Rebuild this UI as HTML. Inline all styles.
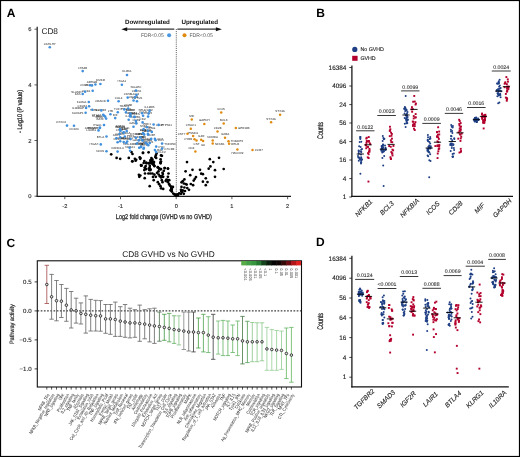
<!DOCTYPE html>
<html><head><meta charset="utf-8"><style>
html,body{margin:0;padding:0;background:#fff;overflow:hidden;}
svg{display:block;will-change:transform;}
text{font-family:"Liberation Sans",sans-serif;text-rendering:geometricPrecision;}
</style></head><body>
<svg width="520" height="457" viewBox="0 0 520 457">
<rect width="520" height="457" fill="#fff"/>
<rect x="0.5" y="0.5" width="519" height="456" fill="none" stroke="#000" stroke-width="1.2"/>
<text x="6.8" y="17" font-size="12" font-weight="bold" fill="#000">A</text>
<text x="316.3" y="16.7" font-size="12" font-weight="bold" fill="#000">B</text>
<text x="6.4" y="246.5" font-size="12" font-weight="bold" fill="#000">C</text>
<text x="315.9" y="246.4" font-size="12" font-weight="bold" fill="#000">D</text>
<line x1="37.2" y1="26.8" x2="37.2" y2="196.9" stroke="#2a2a2a" stroke-width="1.3"/>
<line x1="36.6" y1="196.3" x2="291" y2="196.3" stroke="#1a1a1a" stroke-width="1.25"/>
<line x1="34.5" y1="196.2" x2="37" y2="196.2" stroke="#333" stroke-width="0.8"/>
<text x="31.4" y="198.2" font-size="5.8" fill="#333" stroke="#333" stroke-width="0.15" text-anchor="end">0</text>
<line x1="34.5" y1="140.5" x2="37" y2="140.5" stroke="#333" stroke-width="0.8"/>
<text x="31.4" y="142.5" font-size="5.8" fill="#333" stroke="#333" stroke-width="0.15" text-anchor="end">2</text>
<line x1="34.5" y1="84.9" x2="37" y2="84.9" stroke="#333" stroke-width="0.8"/>
<text x="31.4" y="86.9" font-size="5.8" fill="#333" stroke="#333" stroke-width="0.15" text-anchor="end">4</text>
<line x1="34.5" y1="29.2" x2="37" y2="29.2" stroke="#333" stroke-width="0.8"/>
<text x="31.4" y="31.2" font-size="5.8" fill="#333" stroke="#333" stroke-width="0.15" text-anchor="end">6</text>
<line x1="64.8" y1="196.5" x2="64.8" y2="199.2" stroke="#333" stroke-width="0.8"/>
<text x="64.8" y="208.1" font-size="5.6" fill="#333" stroke="#333" stroke-width="0.15" text-anchor="middle">-2</text>
<line x1="120.5" y1="196.5" x2="120.5" y2="199.2" stroke="#333" stroke-width="0.8"/>
<text x="120.5" y="208.1" font-size="5.6" fill="#333" stroke="#333" stroke-width="0.15" text-anchor="middle">-1</text>
<line x1="176.2" y1="196.5" x2="176.2" y2="199.2" stroke="#333" stroke-width="0.8"/>
<text x="176.2" y="208.1" font-size="5.6" fill="#333" stroke="#333" stroke-width="0.15" text-anchor="middle">0</text>
<line x1="231.9" y1="196.5" x2="231.9" y2="199.2" stroke="#333" stroke-width="0.8"/>
<text x="231.9" y="208.1" font-size="5.6" fill="#333" stroke="#333" stroke-width="0.15" text-anchor="middle">1</text>
<line x1="287.6" y1="196.5" x2="287.6" y2="199.2" stroke="#333" stroke-width="0.8"/>
<text x="287.6" y="208.1" font-size="5.6" fill="#333" stroke="#333" stroke-width="0.15" text-anchor="middle">2</text>
<text x="163.8" y="219.3" font-size="7" fill="#333" stroke="#333" stroke-width="0.32" text-anchor="middle" textLength="96" lengthAdjust="spacingAndGlyphs">Log2 fold change (GVHD vs no GVHD)</text>
<text transform="translate(21.6,111.5) rotate(-90)" font-size="6.8" fill="#333" stroke="#333" stroke-width="0.32" text-anchor="middle" textLength="43" lengthAdjust="spacingAndGlyphs">- Log10 (P value)</text>
<text x="41.4" y="33.5" font-size="8.3" fill="#222">CD8</text>
<line x1="176.3" y1="29" x2="176.3" y2="196" stroke="#444" stroke-width="0.9" stroke-dasharray="1,1.1"/>
<line x1="125" y1="29.2" x2="174.3" y2="29.2" stroke="#333" stroke-width="1.3"/>
<polygon points="121.3,29.2 127.2,27.2 127.2,31.2" fill="#111"/>
<line x1="177.4" y1="29.2" x2="216.5" y2="29.2" stroke="#333" stroke-width="1.3"/>
<polygon points="221.9,29.2 215.9,27.2 215.9,31.2" fill="#111"/>
<text x="125.1" y="24.2" font-size="6.2" font-weight="bold" fill="#111" textLength="44.8" lengthAdjust="spacingAndGlyphs">Downregulated</text>
<text x="181.4" y="24.2" font-size="6.2" font-weight="bold" fill="#111" textLength="36.6" lengthAdjust="spacingAndGlyphs">Upregulated</text>
<text x="141" y="37.1" font-size="5.3" fill="#555" textLength="22.8" lengthAdjust="spacingAndGlyphs">FDR&lt;0.05</text>
<circle cx="169.1" cy="35.2" r="2" fill="#4a97e0"/>
<circle cx="184.5" cy="35.2" r="2" fill="#e08a10"/>
<text x="189.5" y="37.1" font-size="5.3" fill="#555" textLength="23.3" lengthAdjust="spacingAndGlyphs">FDR&lt;0.05</text>
<text x="49.8" y="44.6" font-size="3.0" fill="#262626" text-anchor="middle">CAHLHY</text>
<text x="82.7" y="68.5" font-size="3.0" fill="#262626" text-anchor="middle">LTB4R</text>
<text x="127.0" y="72.4" font-size="3.0" fill="#262626" text-anchor="middle">KLRK1</text>
<text x="121.9" y="82.2" font-size="3.0" fill="#262626" text-anchor="middle">ITGA1</text>
<text x="100.4" y="81.4" font-size="3.0" fill="#262626" text-anchor="middle">DMKR</text>
<text x="90.5" y="91.8" font-size="3.0" fill="#262626" text-anchor="end">KCD1</text>
<text x="82.9" y="92.7" font-size="3.0" fill="#262626" text-anchor="end">SLAMF7</text>
<text x="92.0" y="82.9" font-size="3.0" fill="#262626" text-anchor="middle">ARHGB</text>
<text x="80.5" y="95.0" font-size="3.0" fill="#262626" text-anchor="end">FAS</text>
<text x="136.0" y="88.0" font-size="3.0" fill="#262626" text-anchor="middle">SIGLEC</text>
<text x="136.5" y="92.4" font-size="3.0" fill="#262626" text-anchor="middle">CD97A</text>
<text x="137.0" y="98.6" font-size="3.0" fill="#262626" text-anchor="middle">CMTM1</text>
<text x="127.7" y="95.0" font-size="3.0" fill="#262626" text-anchor="middle">CD58</text>
<text x="105.8" y="101.8" font-size="3.0" fill="#262626" text-anchor="end">CRADD</text>
<text x="118.6" y="98.7" font-size="3.0" fill="#262626" text-anchor="middle">CUL4</text>
<text x="86.6" y="103.0" font-size="3.0" fill="#262626" text-anchor="end">KLRG1</text>
<text x="86.9" y="107.3" font-size="3.0" fill="#262626" text-anchor="end">CD244</text>
<text x="83.9" y="109.0" font-size="3.0" fill="#262626" text-anchor="end">IL18RAP</text>
<text x="83.4" y="113.8" font-size="3.0" fill="#262626" text-anchor="end">KLRAP1</text>
<text x="94.5" y="110.7" font-size="3.0" fill="#262626">SLAMF6</text>
<text x="66.0" y="123.0" font-size="3.0" fill="#262626" text-anchor="end">CXXC4</text>
<text x="74.0" y="130.4" font-size="3.0" fill="#262626" text-anchor="middle">CD160</text>
<text x="101.8" y="126.0" font-size="3.0" fill="#262626" text-anchor="end">ITGAL</text>
<text x="97.5" y="128.9" font-size="3.0" fill="#262626" text-anchor="end">ARHGAP</text>
<text x="96.3" y="131.4" font-size="3.0" fill="#262626" text-anchor="end">LILRB1</text>
<text x="104.3" y="137.5" font-size="3.0" fill="#262626" text-anchor="end">BTLA</text>
<text x="98.6" y="145.4" font-size="3.0" fill="#262626" text-anchor="end">ITGAX</text>
<text x="104.3" y="152.3" font-size="3.0" fill="#262626" text-anchor="end">NCR1</text>
<text x="117.6" y="149.0" font-size="3.0" fill="#262626" text-anchor="middle">KIR2DL4</text>
<text x="99.1" y="111.4" font-size="3.0" fill="#262626" text-anchor="end">TBX21</text>
<text x="110.4" y="111.6" font-size="3.0" fill="#262626" text-anchor="middle">LTB</text>
<text x="117.8" y="109.7" font-size="3.0" fill="#262626" text-anchor="middle">TCF7</text>
<text x="124.3" y="106.8" font-size="3.0" fill="#262626" text-anchor="middle">TRAF3</text>
<text x="101.9" y="116.7" font-size="3.0" fill="#262626" text-anchor="end">KLRD1</text>
<text x="102.9" y="117.6" font-size="3.0" fill="#262626" text-anchor="end">ZEB2</text>
<text x="103.9" y="119.6" font-size="3.0" fill="#262626" text-anchor="end">BATF</text>
<text x="115.2" y="115.5" font-size="3.0" fill="#262626" text-anchor="middle">IRF</text>
<text x="149.5" y="108.3" font-size="3.0" fill="#262626" text-anchor="middle">IL12RB</text>
<text x="148.6" y="111.0" font-size="3.0" fill="#262626" text-anchor="middle">CCR2</text>
<text x="148.1" y="114.0" font-size="3.0" fill="#262626" text-anchor="middle">CCR5</text>
<text x="155.8" y="125.5" font-size="3.0" fill="#262626">CD27</text>
<text x="160.8" y="125.9" font-size="3.0" fill="#262626">PTPN11</text>
<text x="143.6" y="126.5" font-size="3.0" fill="#262626" text-anchor="middle">STAT</text>
<text x="130.1" y="111.2" font-size="3.0" fill="#262626" text-anchor="middle">STAT4</text>
<text x="128.7" y="117.2" font-size="3.0" fill="#262626" text-anchor="middle">IL7R</text>
<text x="142.6" y="119.8" font-size="3.0" fill="#262626" text-anchor="middle">CD2</text>
<text x="134.4" y="114.5" font-size="3.0" fill="#262626" text-anchor="middle">EOMES</text>
<text x="120.0" y="126.5" font-size="3.0" fill="#262626" text-anchor="middle">ZAP70</text>
<text x="126.7" y="128.5" font-size="3.0" fill="#262626" text-anchor="middle">LCK</text>
<text x="143.1" y="130.7" font-size="3.0" fill="#262626" text-anchor="middle">CD5</text>
<text x="140.4" y="134.9" font-size="3.0" fill="#262626" text-anchor="middle">CD6</text>
<text x="164.3" y="144.6" font-size="3.0" fill="#262626">TNFRSF</text>
<text x="164.3" y="149.6" font-size="3.0" fill="#262626">CXCR4</text>
<text x="117.6" y="139.7" font-size="3.0" fill="#262626" text-anchor="middle">IL21R</text>
<text x="120.2" y="134.6" font-size="3.0" fill="#262626" text-anchor="middle">ICAM1</text>
<text x="116.3" y="135.6" font-size="3.0" fill="#262626" text-anchor="middle">JAK1</text>
<text x="129.6" y="145.2" font-size="3.0" fill="#262626" text-anchor="middle">HLA-DMB</text>
<text x="139.2" y="145.2" font-size="3.0" fill="#262626" text-anchor="middle">SOCS</text>
<text x="157.1" y="151.1" font-size="3.0" fill="#262626">RAF</text>
<text x="130.6" y="136.5" font-size="3.0" fill="#262626" text-anchor="middle">PRF1</text>
<text x="136.8" y="140.9" font-size="3.0" fill="#262626" text-anchor="middle">GZMB</text>
<text x="151.2" y="136.3" font-size="3.0" fill="#262626" text-anchor="middle">CD3E</text>
<text x="147.9" y="131.3" font-size="3.0" fill="#262626" text-anchor="middle">CD8</text>
<text x="145.7" y="140.1" font-size="3.0" fill="#262626" text-anchor="middle">NFATC</text>
<text x="158.4" y="147.6" font-size="3.0" fill="#262626">FYN</text>
<text x="87.9" y="86.2" font-size="3.0" fill="#262626" text-anchor="end">CD96</text>
<text x="93.2" y="85.5" font-size="3.0" fill="#262626" text-anchor="end">TIGIT</text>
<text x="135.0" y="94.7" font-size="3.0" fill="#262626" text-anchor="middle">LAG3</text>
<text x="133.6" y="97.9" font-size="3.0" fill="#262626" text-anchor="middle">CD226</text>
<text x="101.0" y="115.7" font-size="3.0" fill="#262626" text-anchor="end">CTLA4</text>
<text x="126.0" y="109.7" font-size="3.0" fill="#262626" text-anchor="middle">PDCD1</text>
<text x="128.2" y="105.9" font-size="3.0" fill="#262626" text-anchor="middle">CD38</text>
<text x="130.1" y="113.6" font-size="3.0" fill="#262626" text-anchor="middle">HAVCR</text>
<text x="135.9" y="118.4" font-size="3.0" fill="#262626" text-anchor="middle">KLRB1</text>
<text x="136.3" y="120.8" font-size="3.0" fill="#262626" text-anchor="middle">CD69</text>
<text x="142.1" y="110.7" font-size="3.0" fill="#262626" text-anchor="middle">SELL</text>
<text x="143.1" y="113.1" font-size="3.0" fill="#262626" text-anchor="middle">CCL5</text>
<text x="133.5" y="124.1" font-size="3.0" fill="#262626" text-anchor="middle">GZMK</text>
<text x="120.5" y="128.2" font-size="3.0" fill="#262626" text-anchor="middle">GZMA</text>
<text x="123.8" y="129.9" font-size="3.0" fill="#262626" text-anchor="middle">NKG7</text>
<text x="119.5" y="131.4" font-size="3.0" fill="#262626" text-anchor="middle">CST7</text>
<text x="147.0" y="124.7" font-size="3.0" fill="#262626" text-anchor="middle">PRF1</text>
<text x="148.1" y="128.2" font-size="3.0" fill="#262626" text-anchor="middle">FASL</text>
<text x="151.8" y="129.3" font-size="3.0" fill="#262626" text-anchor="middle">IFNG</text>
<text x="144.2" y="132.0" font-size="3.0" fill="#262626" text-anchor="middle">TNF</text>
<text x="148.1" y="132.0" font-size="3.0" fill="#262626" text-anchor="middle">IL2RB</text>
<text x="157.1" y="139.9" font-size="3.0" fill="#262626">CD7</text>
<text x="130.5" y="111.1" font-size="3.0" fill="#262626" text-anchor="middle">CD247</text>
<text x="130.5" y="113.7" font-size="3.0" fill="#262626" text-anchor="middle">ITK</text>
<text x="134.5" y="114.2" font-size="3.0" fill="#262626" text-anchor="middle">LAT</text>
<text x="120.2" y="127.9" font-size="3.0" fill="#262626" text-anchor="middle">PLCG1</text>
<text x="123.7" y="129.8" font-size="3.0" fill="#262626" text-anchor="middle">VAV1</text>
<text x="124.8" y="133.9" font-size="3.0" fill="#262626" text-anchor="middle">SH2D1A</text>
<text x="120.2" y="138.7" font-size="3.0" fill="#262626" text-anchor="middle">CD84</text>
<text x="123.7" y="139.4" font-size="3.0" fill="#262626" text-anchor="middle">LY9</text>
<text x="126.3" y="140.4" font-size="3.0" fill="#262626" text-anchor="middle">CD48</text>
<text x="127.2" y="138.9" font-size="3.0" fill="#262626" text-anchor="middle">SLAMF1</text>
<text x="135.9" y="135.1" font-size="3.0" fill="#262626" text-anchor="middle">CX3CR1</text>
<text x="140.2" y="134.6" font-size="3.0" fill="#262626" text-anchor="middle">S1PR5</text>
<text x="138.8" y="137.8" font-size="3.0" fill="#262626" text-anchor="middle">ZNF683</text>
<text x="142.1" y="137.5" font-size="3.0" fill="#262626" text-anchor="middle">TOX</text>
<text x="130.1" y="148.1" font-size="3.0" fill="#262626" text-anchor="middle">NR4A1</text>
<text x="141.2" y="144.2" font-size="3.0" fill="#262626" text-anchor="middle">EGR1</text>
<text x="143.1" y="130.8" font-size="3.0" fill="#262626" text-anchor="middle">FOS</text>
<text x="157.8" y="141.3" font-size="3.0" fill="#262626">JUN</text>
<text x="142.6" y="137.9" font-size="3.0" fill="#262626" text-anchor="middle">IRF4</text>
<text x="147.0" y="141.4" font-size="3.0" fill="#262626" text-anchor="middle">BCL6</text>
<text x="148.3" y="142.7" font-size="3.0" fill="#262626" text-anchor="middle">PRDM1</text>
<text x="149.8" y="140.5" font-size="3.0" fill="#262626" text-anchor="middle">ID2</text>
<text x="140.9" y="144.5" font-size="3.0" fill="#262626" text-anchor="middle">ID3</text>
<text x="143.9" y="145.3" font-size="3.0" fill="#262626" text-anchor="middle">MYB</text>
<text x="143.5" y="146.2" font-size="3.0" fill="#262626" text-anchor="middle">LEF1</text>
<text x="158.4" y="152.9" font-size="3.0" fill="#262626">KLF2</text>
<text x="97.8" y="128.7" font-size="3.0" fill="#262626" text-anchor="end">RUNX3</text>
<text x="221.2" y="109.9" font-size="3.0" fill="#262626" text-anchor="middle">ICOS</text>
<text x="191.8" y="116.8" font-size="3.0" fill="#262626" text-anchor="middle">MIF</text>
<text x="204.3" y="121.3" font-size="3.0" fill="#262626" text-anchor="middle">GAPDH</text>
<text x="223.7" y="120.8" font-size="3.0" fill="#262626" text-anchor="middle">BCL3</text>
<text x="190.8" y="126.2" font-size="3.0" fill="#262626" text-anchor="middle">CHAC1</text>
<text x="238.0" y="129.0" font-size="3.0" fill="#262626">GPR183</text>
<text x="217.5" y="128.9" font-size="3.0" fill="#262626" text-anchor="middle">CD28</text>
<text x="185.3" y="134.7" font-size="3.0" fill="#262626" text-anchor="end">CST7</text>
<text x="193.1" y="133.5" font-size="3.0" fill="#262626" text-anchor="middle">PSMD1</text>
<text x="192.3" y="140.2" font-size="3.0" fill="#262626" text-anchor="end">CYBB</text>
<text x="196.5" y="145.0" font-size="3.0" fill="#262626" text-anchor="middle">CST</text>
<text x="201.2" y="137.2" font-size="3.0" fill="#262626" text-anchor="middle">IL4R</text>
<text x="203.1" y="145.6" font-size="3.0" fill="#262626" text-anchor="middle">ILK</text>
<text x="212.7" y="138.0" font-size="3.0" fill="#262626" text-anchor="middle">NFKBIA</text>
<text x="214.9" y="144.6" font-size="3.0" fill="#262626">NFKB1</text>
<text x="225.0" y="135.2" font-size="3.0" fill="#262626" text-anchor="middle">IL2RA</text>
<text x="230.7" y="142.3" font-size="3.0" fill="#262626">TNFAIP3</text>
<text x="231.3" y="144.7" font-size="3.0" fill="#262626">RELB</text>
<text x="194.4" y="148.8" font-size="3.0" fill="#262626" text-anchor="end">CD4</text>
<text x="280.1" y="112.2" font-size="3.0" fill="#262626" text-anchor="middle">STX4A</text>
<text x="271.1" y="119.6" font-size="3.0" fill="#262626" text-anchor="middle">STX4A</text>
<text x="237.4" y="154.0" font-size="3.0" fill="#262626" text-anchor="middle">HAVCR2</text>
<text x="254.7" y="151.1" font-size="3.0" fill="#262626">CCR7</text>
<circle cx="111.2" cy="154.3" r="1.35" fill="#000"/>
<circle cx="116.6" cy="157.9" r="1.35" fill="#000"/>
<circle cx="120.2" cy="158.8" r="1.35" fill="#000"/>
<circle cx="128.8" cy="157.9" r="1.35" fill="#000"/>
<circle cx="131.5" cy="152.1" r="1.35" fill="#000"/>
<circle cx="132.5" cy="154" r="1.35" fill="#000"/>
<circle cx="134.9" cy="158.8" r="1.35" fill="#000"/>
<circle cx="136.2" cy="159.8" r="1.35" fill="#000"/>
<circle cx="132.5" cy="161.3" r="1.35" fill="#000"/>
<circle cx="139.7" cy="157.4" r="1.35" fill="#000"/>
<circle cx="140.2" cy="158.8" r="1.35" fill="#000"/>
<circle cx="142.9" cy="152.9" r="1.35" fill="#000"/>
<circle cx="141.4" cy="165.6" r="1.35" fill="#000"/>
<circle cx="143.1" cy="152.8" r="1.35" fill="#000"/>
<circle cx="148.6" cy="152.3" r="1.35" fill="#000"/>
<circle cx="156.6" cy="153.6" r="1.35" fill="#000"/>
<circle cx="155.8" cy="155.4" r="1.35" fill="#000"/>
<circle cx="155.3" cy="157.1" r="1.35" fill="#000"/>
<circle cx="156.2" cy="158" r="1.35" fill="#000"/>
<circle cx="161" cy="155.4" r="1.35" fill="#000"/>
<circle cx="161.9" cy="155.8" r="1.35" fill="#000"/>
<circle cx="140.4" cy="158" r="1.35" fill="#000"/>
<circle cx="151.4" cy="158" r="1.35" fill="#000"/>
<circle cx="152.3" cy="159.3" r="1.35" fill="#000"/>
<circle cx="150.5" cy="160.2" r="1.35" fill="#000"/>
<circle cx="160.6" cy="159.3" r="1.35" fill="#000"/>
<circle cx="154" cy="162" r="1.35" fill="#000"/>
<circle cx="161" cy="161.5" r="1.35" fill="#000"/>
<circle cx="160.6" cy="163.3" r="1.35" fill="#000"/>
<circle cx="146.6" cy="163.3" r="1.35" fill="#000"/>
<circle cx="148.8" cy="163.1" r="1.35" fill="#000"/>
<circle cx="151.4" cy="163.3" r="1.35" fill="#000"/>
<circle cx="153.1" cy="164.6" r="1.35" fill="#000"/>
<circle cx="154.4" cy="165.9" r="1.35" fill="#000"/>
<circle cx="141.3" cy="165.4" r="1.35" fill="#000"/>
<circle cx="144.8" cy="167.6" r="1.35" fill="#000"/>
<circle cx="148.8" cy="168.5" r="1.35" fill="#000"/>
<circle cx="150.5" cy="169.4" r="1.35" fill="#000"/>
<circle cx="157.9" cy="167.2" r="1.35" fill="#000"/>
<circle cx="159.3" cy="168.5" r="1.35" fill="#000"/>
<circle cx="161" cy="169" r="1.35" fill="#000"/>
<circle cx="164.9" cy="168.1" r="1.35" fill="#000"/>
<circle cx="168" cy="168.5" r="1.35" fill="#000"/>
<circle cx="132.2" cy="161.3" r="1.35" fill="#000"/>
<circle cx="135.6" cy="160.7" r="1.35" fill="#000"/>
<circle cx="141.2" cy="165.7" r="1.35" fill="#000"/>
<circle cx="146.3" cy="162.7" r="1.35" fill="#000"/>
<circle cx="149" cy="163.4" r="1.35" fill="#000"/>
<circle cx="150.4" cy="162" r="1.35" fill="#000"/>
<circle cx="151.7" cy="160.7" r="1.35" fill="#000"/>
<circle cx="153.1" cy="161.6" r="1.35" fill="#000"/>
<circle cx="153.7" cy="164" r="1.35" fill="#000"/>
<circle cx="154.4" cy="166.1" r="1.35" fill="#000"/>
<circle cx="160.5" cy="162.4" r="1.35" fill="#000"/>
<circle cx="145" cy="168.1" r="1.35" fill="#000"/>
<circle cx="144.3" cy="170.1" r="1.35" fill="#000"/>
<circle cx="149.7" cy="168.1" r="1.35" fill="#000"/>
<circle cx="150.4" cy="170.1" r="1.35" fill="#000"/>
<circle cx="157.8" cy="167.4" r="1.35" fill="#000"/>
<circle cx="159.1" cy="168.7" r="1.35" fill="#000"/>
<circle cx="160.5" cy="169.4" r="1.35" fill="#000"/>
<circle cx="158.5" cy="171.4" r="1.35" fill="#000"/>
<circle cx="157.1" cy="172.8" r="1.35" fill="#000"/>
<circle cx="164.5" cy="168.1" r="1.35" fill="#000"/>
<circle cx="167.9" cy="168.7" r="1.35" fill="#000"/>
<circle cx="163.8" cy="170.8" r="1.35" fill="#000"/>
<circle cx="162.5" cy="172.8" r="1.35" fill="#000"/>
<circle cx="138.9" cy="174.8" r="1.35" fill="#000"/>
<circle cx="140.3" cy="175.5" r="1.35" fill="#000"/>
<circle cx="139.3" cy="176.8" r="1.35" fill="#000"/>
<circle cx="145" cy="173.5" r="1.35" fill="#000"/>
<circle cx="148.4" cy="173.5" r="1.35" fill="#000"/>
<circle cx="150.4" cy="173.5" r="1.35" fill="#000"/>
<circle cx="152.4" cy="173.5" r="1.35" fill="#000"/>
<circle cx="144.7" cy="178.2" r="1.35" fill="#000"/>
<circle cx="155.8" cy="176.8" r="1.35" fill="#000"/>
<circle cx="159.8" cy="176.2" r="1.35" fill="#000"/>
<circle cx="161.1" cy="177.5" r="1.35" fill="#000"/>
<circle cx="163.2" cy="176.8" r="1.35" fill="#000"/>
<circle cx="168.5" cy="173.5" r="1.35" fill="#000"/>
<circle cx="167.9" cy="176.8" r="1.35" fill="#000"/>
<circle cx="166.5" cy="179.5" r="1.35" fill="#000"/>
<circle cx="169.2" cy="180.2" r="1.35" fill="#000"/>
<circle cx="153.7" cy="180.2" r="1.35" fill="#000"/>
<circle cx="161.8" cy="180.2" r="1.35" fill="#000"/>
<circle cx="162.5" cy="182.2" r="1.35" fill="#000"/>
<circle cx="167.9" cy="182.2" r="1.35" fill="#000"/>
<circle cx="169.2" cy="184.2" r="1.35" fill="#000"/>
<circle cx="169.9" cy="185.6" r="1.35" fill="#000"/>
<circle cx="149.7" cy="186.2" r="1.35" fill="#000"/>
<circle cx="159.1" cy="184.2" r="1.35" fill="#000"/>
<circle cx="160.5" cy="186.2" r="1.35" fill="#000"/>
<circle cx="161.1" cy="188.3" r="1.35" fill="#000"/>
<circle cx="163.2" cy="188.9" r="1.35" fill="#000"/>
<circle cx="171.2" cy="186.9" r="1.35" fill="#000"/>
<circle cx="171.9" cy="188.9" r="1.35" fill="#000"/>
<circle cx="170.6" cy="190.3" r="1.35" fill="#000"/>
<circle cx="171.9" cy="191.6" r="1.35" fill="#000"/>
<circle cx="173.3" cy="193.6" r="1.35" fill="#000"/>
<circle cx="174.6" cy="194.3" r="1.35" fill="#000"/>
<circle cx="175.9" cy="195.3" r="1.35" fill="#000"/>
<circle cx="177.3" cy="194.3" r="1.35" fill="#000"/>
<circle cx="187" cy="162.1" r="1.35" fill="#000"/>
<circle cx="185.6" cy="171.3" r="1.35" fill="#000"/>
<circle cx="192.5" cy="169.8" r="1.35" fill="#000"/>
<circle cx="190.2" cy="175.2" r="1.35" fill="#000"/>
<circle cx="200" cy="169.8" r="1.35" fill="#000"/>
<circle cx="201.2" cy="173.7" r="1.35" fill="#000"/>
<circle cx="202.9" cy="174.2" r="1.35" fill="#000"/>
<circle cx="209.8" cy="159.2" r="1.35" fill="#000"/>
<circle cx="213.3" cy="162.1" r="1.35" fill="#000"/>
<circle cx="210.4" cy="166.4" r="1.35" fill="#000"/>
<circle cx="208.7" cy="168.7" r="1.35" fill="#000"/>
<circle cx="219" cy="157.8" r="1.35" fill="#000"/>
<circle cx="215" cy="170.2" r="1.35" fill="#000"/>
<circle cx="223.7" cy="169" r="1.35" fill="#000"/>
<circle cx="215" cy="176.8" r="1.35" fill="#000"/>
<circle cx="205.8" cy="178.3" r="1.35" fill="#000"/>
<circle cx="202.9" cy="181.7" r="1.35" fill="#000"/>
<circle cx="207.5" cy="182.1" r="1.35" fill="#000"/>
<circle cx="205.8" cy="185.2" r="1.35" fill="#000"/>
<circle cx="196" cy="177.1" r="1.35" fill="#000"/>
<circle cx="194.8" cy="178.8" r="1.35" fill="#000"/>
<circle cx="193.7" cy="180.6" r="1.35" fill="#000"/>
<circle cx="190.8" cy="184" r="1.35" fill="#000"/>
<circle cx="193.1" cy="185.2" r="1.35" fill="#000"/>
<circle cx="184.4" cy="179.4" r="1.35" fill="#000"/>
<circle cx="182.7" cy="181.2" r="1.35" fill="#000"/>
<circle cx="181.5" cy="182.3" r="1.35" fill="#000"/>
<circle cx="183.8" cy="183.5" r="1.35" fill="#000"/>
<circle cx="185.6" cy="184" r="1.35" fill="#000"/>
<circle cx="186.7" cy="184.6" r="1.35" fill="#000"/>
<circle cx="181.5" cy="186.9" r="1.35" fill="#000"/>
<circle cx="184.4" cy="187.5" r="1.35" fill="#000"/>
<circle cx="187.3" cy="188.1" r="1.35" fill="#000"/>
<circle cx="189" cy="189.8" r="1.35" fill="#000"/>
<circle cx="181" cy="189.8" r="1.35" fill="#000"/>
<circle cx="182.7" cy="190.4" r="1.35" fill="#000"/>
<circle cx="185" cy="191" r="1.35" fill="#000"/>
<circle cx="179.2" cy="193.3" r="1.35" fill="#000"/>
<circle cx="181" cy="193.8" r="1.35" fill="#000"/>
<circle cx="183.8" cy="193.8" r="1.35" fill="#000"/>
<circle cx="174.6" cy="194.4" r="1.35" fill="#000"/>
<circle cx="176.3" cy="195.6" r="1.35" fill="#000"/>
<circle cx="178.1" cy="195" r="1.35" fill="#000"/>
<circle cx="171.2" cy="186.9" r="1.35" fill="#000"/>
<circle cx="171.2" cy="189.2" r="1.35" fill="#000"/>
<circle cx="171.7" cy="191" r="1.35" fill="#000"/>
<circle cx="158.7" cy="174.5" r="1.35" fill="#000"/>
<circle cx="171.5" cy="189.6" r="1.35" fill="#000"/>
<circle cx="160.8" cy="176.3" r="1.35" fill="#000"/>
<circle cx="149.8" cy="165.9" r="1.35" fill="#000"/>
<circle cx="167.8" cy="180.2" r="1.35" fill="#000"/>
<circle cx="143.7" cy="163.0" r="1.35" fill="#000"/>
<circle cx="151.7" cy="162.9" r="1.35" fill="#000"/>
<circle cx="157.8" cy="182.2" r="1.35" fill="#000"/>
<circle cx="181.3" cy="191.4" r="1.35" fill="#000"/>
<circle cx="165.7" cy="180.9" r="1.35" fill="#000"/>
<circle cx="141.0" cy="165.0" r="1.35" fill="#000"/>
<circle cx="153.0" cy="176.9" r="1.35" fill="#000"/>
<circle cx="145.7" cy="166.1" r="1.35" fill="#000"/>
<circle cx="144.3" cy="161.0" r="1.35" fill="#000"/>
<circle cx="162.9" cy="174.1" r="1.35" fill="#000"/>
<circle cx="162.0" cy="176.6" r="1.35" fill="#000"/>
<circle cx="161.8" cy="176.0" r="1.35" fill="#000"/>
<circle cx="154.4" cy="174.6" r="1.35" fill="#000"/>
<circle cx="182.3" cy="191.9" r="1.35" fill="#000"/>
<circle cx="172.9" cy="186.9" r="1.35" fill="#000"/>
<circle cx="149.3" cy="170.1" r="1.35" fill="#000"/>
<circle cx="145.9" cy="169.2" r="1.35" fill="#000"/>
<circle cx="49.8" cy="47.2" r="1.3" fill="#3f8fdc"/>
<circle cx="82.7" cy="71.1" r="1.3" fill="#3f8fdc"/>
<circle cx="127" cy="75" r="1.3" fill="#3f8fdc"/>
<circle cx="90.1" cy="85.2" r="1.3" fill="#3f8fdc"/>
<circle cx="92" cy="85.5" r="1.3" fill="#3f8fdc"/>
<circle cx="95.4" cy="84.5" r="1.3" fill="#3f8fdc"/>
<circle cx="100.4" cy="84" r="1.3" fill="#3f8fdc"/>
<circle cx="121.9" cy="84.8" r="1.3" fill="#3f8fdc"/>
<circle cx="85.1" cy="91.7" r="1.3" fill="#3f8fdc"/>
<circle cx="82.7" cy="94" r="1.3" fill="#3f8fdc"/>
<circle cx="92.7" cy="90.8" r="1.3" fill="#3f8fdc"/>
<circle cx="136" cy="90.6" r="1.3" fill="#3f8fdc"/>
<circle cx="136.5" cy="95" r="1.3" fill="#3f8fdc"/>
<circle cx="135" cy="97.3" r="1.3" fill="#3f8fdc"/>
<circle cx="133.6" cy="100.5" r="1.3" fill="#3f8fdc"/>
<circle cx="137" cy="101.2" r="1.3" fill="#3f8fdc"/>
<circle cx="127.7" cy="97.6" r="1.3" fill="#3f8fdc"/>
<circle cx="108" cy="100.8" r="1.3" fill="#3f8fdc"/>
<circle cx="118.6" cy="101.3" r="1.3" fill="#3f8fdc"/>
<circle cx="88.8" cy="102" r="1.3" fill="#3f8fdc"/>
<circle cx="89.1" cy="106.3" r="1.3" fill="#3f8fdc"/>
<circle cx="86.1" cy="108" r="1.3" fill="#3f8fdc"/>
<circle cx="92.3" cy="109.7" r="1.3" fill="#3f8fdc"/>
<circle cx="85.6" cy="112.8" r="1.3" fill="#3f8fdc"/>
<circle cx="101.3" cy="110.4" r="1.3" fill="#3f8fdc"/>
<circle cx="67" cy="125.6" r="1.3" fill="#3f8fdc"/>
<circle cx="74" cy="125.8" r="1.3" fill="#3f8fdc"/>
<circle cx="99.7" cy="127.9" r="1.3" fill="#3f8fdc"/>
<circle cx="98.5" cy="130.4" r="1.3" fill="#3f8fdc"/>
<circle cx="104" cy="125" r="1.3" fill="#3f8fdc"/>
<circle cx="103.2" cy="114.7" r="1.3" fill="#3f8fdc"/>
<circle cx="104.1" cy="115.7" r="1.3" fill="#3f8fdc"/>
<circle cx="105.1" cy="116.6" r="1.3" fill="#3f8fdc"/>
<circle cx="106.1" cy="118.6" r="1.3" fill="#3f8fdc"/>
<circle cx="110.4" cy="114.2" r="1.3" fill="#3f8fdc"/>
<circle cx="117.8" cy="112.3" r="1.3" fill="#3f8fdc"/>
<circle cx="124.3" cy="109.4" r="1.3" fill="#3f8fdc"/>
<circle cx="126" cy="112.3" r="1.3" fill="#3f8fdc"/>
<circle cx="128.2" cy="108.5" r="1.3" fill="#3f8fdc"/>
<circle cx="130.1" cy="113.8" r="1.3" fill="#3f8fdc"/>
<circle cx="130.1" cy="116.2" r="1.3" fill="#3f8fdc"/>
<circle cx="115.2" cy="118.1" r="1.3" fill="#3f8fdc"/>
<circle cx="128.7" cy="119.8" r="1.3" fill="#3f8fdc"/>
<circle cx="134.4" cy="117.1" r="1.3" fill="#3f8fdc"/>
<circle cx="135.9" cy="121" r="1.3" fill="#3f8fdc"/>
<circle cx="136.3" cy="123.4" r="1.3" fill="#3f8fdc"/>
<circle cx="142.1" cy="113.3" r="1.3" fill="#3f8fdc"/>
<circle cx="143.1" cy="115.7" r="1.3" fill="#3f8fdc"/>
<circle cx="142.6" cy="122.4" r="1.3" fill="#3f8fdc"/>
<circle cx="133.5" cy="126.7" r="1.3" fill="#3f8fdc"/>
<circle cx="120" cy="129.1" r="1.3" fill="#3f8fdc"/>
<circle cx="120.5" cy="130.8" r="1.3" fill="#3f8fdc"/>
<circle cx="123.8" cy="132.5" r="1.3" fill="#3f8fdc"/>
<circle cx="126.7" cy="131.1" r="1.3" fill="#3f8fdc"/>
<circle cx="119.5" cy="134" r="1.3" fill="#3f8fdc"/>
<circle cx="143.6" cy="129.1" r="1.3" fill="#3f8fdc"/>
<circle cx="149.5" cy="110.9" r="1.3" fill="#3f8fdc"/>
<circle cx="148.6" cy="113.6" r="1.3" fill="#3f8fdc"/>
<circle cx="148.1" cy="116.6" r="1.3" fill="#3f8fdc"/>
<circle cx="153.6" cy="124.5" r="1.3" fill="#3f8fdc"/>
<circle cx="158.6" cy="124.9" r="1.3" fill="#3f8fdc"/>
<circle cx="147" cy="127.3" r="1.3" fill="#3f8fdc"/>
<circle cx="148.1" cy="130.8" r="1.3" fill="#3f8fdc"/>
<circle cx="151.8" cy="131.9" r="1.3" fill="#3f8fdc"/>
<circle cx="143.1" cy="133.3" r="1.3" fill="#3f8fdc"/>
<circle cx="144.2" cy="134.6" r="1.3" fill="#3f8fdc"/>
<circle cx="148.1" cy="134.6" r="1.3" fill="#3f8fdc"/>
<circle cx="140.4" cy="137.5" r="1.3" fill="#3f8fdc"/>
<circle cx="151.2" cy="138.9" r="1.3" fill="#3f8fdc"/>
<circle cx="154.9" cy="138.9" r="1.3" fill="#3f8fdc"/>
<circle cx="130.5" cy="113.7" r="1.3" fill="#3f8fdc"/>
<circle cx="130.5" cy="116.3" r="1.3" fill="#3f8fdc"/>
<circle cx="134.5" cy="116.8" r="1.3" fill="#3f8fdc"/>
<circle cx="106.5" cy="136.5" r="1.3" fill="#3f8fdc"/>
<circle cx="100.8" cy="144.4" r="1.3" fill="#3f8fdc"/>
<circle cx="106.5" cy="151.3" r="1.3" fill="#3f8fdc"/>
<circle cx="117.6" cy="151.6" r="1.3" fill="#3f8fdc"/>
<circle cx="120.2" cy="130.5" r="1.3" fill="#3f8fdc"/>
<circle cx="123.7" cy="132.4" r="1.3" fill="#3f8fdc"/>
<circle cx="116.3" cy="138.2" r="1.3" fill="#3f8fdc"/>
<circle cx="120.2" cy="137.2" r="1.3" fill="#3f8fdc"/>
<circle cx="124.8" cy="136.5" r="1.3" fill="#3f8fdc"/>
<circle cx="117.6" cy="142.3" r="1.3" fill="#3f8fdc"/>
<circle cx="120.2" cy="141.3" r="1.3" fill="#3f8fdc"/>
<circle cx="123.7" cy="142" r="1.3" fill="#3f8fdc"/>
<circle cx="126.3" cy="143" r="1.3" fill="#3f8fdc"/>
<circle cx="127.2" cy="141.5" r="1.3" fill="#3f8fdc"/>
<circle cx="130.6" cy="139.1" r="1.3" fill="#3f8fdc"/>
<circle cx="135.9" cy="137.7" r="1.3" fill="#3f8fdc"/>
<circle cx="140.2" cy="137.2" r="1.3" fill="#3f8fdc"/>
<circle cx="138.8" cy="140.4" r="1.3" fill="#3f8fdc"/>
<circle cx="142.1" cy="140.1" r="1.3" fill="#3f8fdc"/>
<circle cx="136.8" cy="143.5" r="1.3" fill="#3f8fdc"/>
<circle cx="129.6" cy="147.8" r="1.3" fill="#3f8fdc"/>
<circle cx="130.1" cy="150.7" r="1.3" fill="#3f8fdc"/>
<circle cx="139.2" cy="147.8" r="1.3" fill="#3f8fdc"/>
<circle cx="141.2" cy="146.8" r="1.3" fill="#3f8fdc"/>
<circle cx="143.1" cy="133.4" r="1.3" fill="#3f8fdc"/>
<circle cx="147.9" cy="133.9" r="1.3" fill="#3f8fdc"/>
<circle cx="155.6" cy="140.3" r="1.3" fill="#3f8fdc"/>
<circle cx="142.6" cy="140.5" r="1.3" fill="#3f8fdc"/>
<circle cx="145.7" cy="142.7" r="1.3" fill="#3f8fdc"/>
<circle cx="147" cy="144" r="1.3" fill="#3f8fdc"/>
<circle cx="148.3" cy="145.3" r="1.3" fill="#3f8fdc"/>
<circle cx="149.8" cy="143.1" r="1.3" fill="#3f8fdc"/>
<circle cx="162.1" cy="143.6" r="1.3" fill="#3f8fdc"/>
<circle cx="156.2" cy="146.6" r="1.3" fill="#3f8fdc"/>
<circle cx="140.9" cy="147.1" r="1.3" fill="#3f8fdc"/>
<circle cx="143.9" cy="147.9" r="1.3" fill="#3f8fdc"/>
<circle cx="143.5" cy="148.8" r="1.3" fill="#3f8fdc"/>
<circle cx="162.1" cy="148.6" r="1.3" fill="#3f8fdc"/>
<circle cx="154.9" cy="150.1" r="1.3" fill="#3f8fdc"/>
<circle cx="156.2" cy="151.9" r="1.3" fill="#3f8fdc"/>
<circle cx="100" cy="127.7" r="1.3" fill="#3f8fdc"/>
<circle cx="221.2" cy="112.5" r="1.25" fill="#e08a10"/>
<circle cx="191.8" cy="119.4" r="1.25" fill="#e08a10"/>
<circle cx="204.3" cy="123.9" r="1.25" fill="#e08a10"/>
<circle cx="223.7" cy="123.4" r="1.25" fill="#e08a10"/>
<circle cx="190.8" cy="128.8" r="1.25" fill="#e08a10"/>
<circle cx="235.8" cy="128" r="1.25" fill="#e08a10"/>
<circle cx="217.5" cy="131.5" r="1.25" fill="#e08a10"/>
<circle cx="187.5" cy="133.7" r="1.25" fill="#e08a10"/>
<circle cx="193.1" cy="136.1" r="1.25" fill="#e08a10"/>
<circle cx="194.5" cy="139.2" r="1.25" fill="#e08a10"/>
<circle cx="196.5" cy="140.4" r="1.25" fill="#e08a10"/>
<circle cx="201.2" cy="139.8" r="1.25" fill="#e08a10"/>
<circle cx="203.1" cy="141" r="1.25" fill="#e08a10"/>
<circle cx="212.7" cy="140.6" r="1.25" fill="#e08a10"/>
<circle cx="212.7" cy="143.6" r="1.25" fill="#e08a10"/>
<circle cx="225" cy="137.8" r="1.25" fill="#e08a10"/>
<circle cx="228.5" cy="141.3" r="1.25" fill="#e08a10"/>
<circle cx="229.1" cy="143.7" r="1.25" fill="#e08a10"/>
<circle cx="195.4" cy="151.4" r="1.25" fill="#e08a10"/>
<circle cx="280.1" cy="114.8" r="1.25" fill="#e08a10"/>
<circle cx="271.1" cy="122.2" r="1.25" fill="#e08a10"/>
<circle cx="237.4" cy="149.4" r="1.25" fill="#e08a10"/>
<circle cx="252.5" cy="150.1" r="1.25" fill="#e08a10"/>
<line x1="351.9" y1="65.4" x2="351.9" y2="197.0" stroke="#111" stroke-width="1.25"/>
<line x1="351.3" y1="196.4" x2="513" y2="196.4" stroke="#111" stroke-width="1.25"/>
<line x1="349.3" y1="67.5" x2="351.9" y2="67.5" stroke="#111" stroke-width="0.8"/>
<text x="346.4" y="69.7" font-size="6.4" fill="#222" stroke="#222" stroke-width="0.12" text-anchor="end">16384</text>
<line x1="349.3" y1="86.0" x2="351.9" y2="86.0" stroke="#111" stroke-width="0.8"/>
<text x="346.4" y="88.2" font-size="6.4" fill="#222" stroke="#222" stroke-width="0.12" text-anchor="end">4096</text>
<line x1="349.3" y1="104.6" x2="351.9" y2="104.6" stroke="#111" stroke-width="0.8"/>
<text x="346.4" y="106.8" font-size="6.4" fill="#222" stroke="#222" stroke-width="0.12" text-anchor="end">24</text>
<line x1="349.3" y1="123.0" x2="351.9" y2="123.0" stroke="#111" stroke-width="0.8"/>
<text x="346.4" y="125.2" font-size="6.4" fill="#222" stroke="#222" stroke-width="0.12" text-anchor="end">56</text>
<line x1="349.3" y1="141.6" x2="351.9" y2="141.6" stroke="#111" stroke-width="0.8"/>
<text x="346.4" y="143.8" font-size="6.4" fill="#222" stroke="#222" stroke-width="0.12" text-anchor="end">64</text>
<line x1="349.3" y1="160.0" x2="351.9" y2="160.0" stroke="#111" stroke-width="0.8"/>
<text x="346.4" y="162.2" font-size="6.4" fill="#222" stroke="#222" stroke-width="0.12" text-anchor="end">16</text>
<line x1="349.3" y1="178.6" x2="351.9" y2="178.6" stroke="#111" stroke-width="0.8"/>
<text x="346.4" y="180.8" font-size="6.4" fill="#222" stroke="#222" stroke-width="0.12" text-anchor="end">4</text>
<line x1="349.3" y1="197.0" x2="351.9" y2="197.0" stroke="#111" stroke-width="0.8"/>
<text x="346.4" y="199.2" font-size="6.4" fill="#222" stroke="#222" stroke-width="0.12" text-anchor="end">1</text>
<line x1="356.1" y1="130.8" x2="374.5" y2="130.8" stroke="#222" stroke-width="0.9"/>
<text x="365.3" y="128.6" font-size="5.2" fill="#333" stroke="#333" stroke-width="0.1" text-anchor="middle">0.0122</text>
<circle cx="362.0" cy="149.0" r="1.0" fill="#1f3f85"/><circle cx="361.3" cy="152.0" r="1.0" fill="#1f3f85"/><circle cx="361.4" cy="158.1" r="1.0" fill="#1f3f85"/><circle cx="360.3" cy="139.1" r="1.0" fill="#1f3f85"/><circle cx="360.3" cy="138.3" r="1.0" fill="#1f3f85"/><circle cx="360.6" cy="147.1" r="1.0" fill="#1f3f85"/><circle cx="358.7" cy="152.1" r="1.0" fill="#1f3f85"/><circle cx="361.1" cy="157.3" r="1.0" fill="#1f3f85"/><circle cx="361.3" cy="141.7" r="1.0" fill="#1f3f85"/><circle cx="359.1" cy="146.2" r="1.0" fill="#1f3f85"/><circle cx="361.2" cy="162.4" r="1.0" fill="#1f3f85"/><circle cx="361.0" cy="162.2" r="1.0" fill="#1f3f85"/><circle cx="358.8" cy="160.8" r="1.0" fill="#1f3f85"/><circle cx="358.3" cy="157.4" r="1.0" fill="#1f3f85"/><circle cx="360.5" cy="137.1" r="1.0" fill="#1f3f85"/><circle cx="359.1" cy="157.4" r="1.0" fill="#1f3f85"/><circle cx="359.7" cy="142.1" r="1.0" fill="#1f3f85"/><circle cx="360.8" cy="159.4" r="1.0" fill="#1f3f85"/><circle cx="361.0" cy="154.4" r="1.0" fill="#1f3f85"/><circle cx="361.3" cy="160.8" r="1.0" fill="#1f3f85"/><circle cx="360.6" cy="151.6" r="1.0" fill="#1f3f85"/><circle cx="359.6" cy="158.8" r="1.0" fill="#1f3f85"/><circle cx="358.0" cy="155.9" r="1.0" fill="#1f3f85"/><circle cx="358.6" cy="150.4" r="1.0" fill="#1f3f85"/><circle cx="358.9" cy="150.9" r="1.0" fill="#1f3f85"/><circle cx="360.4" cy="159.6" r="1.0" fill="#1f3f85"/><circle cx="361.2" cy="149.8" r="1.0" fill="#1f3f85"/><circle cx="358.9" cy="153.8" r="1.0" fill="#1f3f85"/><circle cx="359.8" cy="158.9" r="1.0" fill="#1f3f85"/><circle cx="362.1" cy="159.4" r="1.0" fill="#1f3f85"/><circle cx="360.1" cy="137.0" r="1.0" fill="#1f3f85"/><circle cx="361.0" cy="163.4" r="1.0" fill="#1f3f85"/><circle cx="360.4" cy="173.7" r="1.0" fill="#1f3f85"/><line x1="356.7" y1="154.0" x2="363.9" y2="154.0" stroke="#000" stroke-width="0.9"/>
<rect x="365.8" y="140.1" width="1.9" height="1.9" fill="#b3002d"/><rect x="365.3" y="147.3" width="1.9" height="1.9" fill="#b3002d"/><rect x="365.5" y="142.0" width="1.9" height="1.9" fill="#b3002d"/><rect x="367.9" y="140.7" width="1.9" height="1.9" fill="#b3002d"/><rect x="368.0" y="150.6" width="1.9" height="1.9" fill="#b3002d"/><rect x="366.8" y="156.4" width="1.9" height="1.9" fill="#b3002d"/><rect x="367.8" y="140.1" width="1.9" height="1.9" fill="#b3002d"/><rect x="367.1" y="152.2" width="1.9" height="1.9" fill="#b3002d"/><rect x="367.1" y="146.0" width="1.9" height="1.9" fill="#b3002d"/><rect x="368.6" y="149.4" width="1.9" height="1.9" fill="#b3002d"/><rect x="366.3" y="140.4" width="1.9" height="1.9" fill="#b3002d"/><rect x="368.9" y="142.4" width="1.9" height="1.9" fill="#b3002d"/><rect x="367.7" y="153.3" width="1.9" height="1.9" fill="#b3002d"/><rect x="367.9" y="140.2" width="1.9" height="1.9" fill="#b3002d"/><rect x="364.7" y="144.0" width="1.9" height="1.9" fill="#b3002d"/><rect x="365.1" y="144.5" width="1.9" height="1.9" fill="#b3002d"/><rect x="365.4" y="137.6" width="1.9" height="1.9" fill="#b3002d"/><rect x="366.4" y="145.8" width="1.9" height="1.9" fill="#b3002d"/><rect x="369.3" y="143.3" width="1.9" height="1.9" fill="#b3002d"/><rect x="368.5" y="150.8" width="1.9" height="1.9" fill="#b3002d"/><rect x="368.5" y="147.9" width="1.9" height="1.9" fill="#b3002d"/><rect x="365.8" y="136.8" width="1.9" height="1.9" fill="#b3002d"/><rect x="367.8" y="136.1" width="1.9" height="1.9" fill="#b3002d"/><rect x="367.7" y="157.1" width="1.9" height="1.9" fill="#b3002d"/><rect x="367.5" y="180.6" width="1.9" height="1.9" fill="#b3002d"/><line x1="364.5" y1="144.8" x2="371.7" y2="144.8" stroke="#000" stroke-width="0.9"/>
<text transform="translate(363.7,208.0) rotate(-45)" font-size="6.6" font-style="italic" fill="#222" stroke="#222" stroke-width="0.12" text-anchor="middle" dy="2.3">NFKB1</text>
<line x1="377.3" y1="115.5" x2="395.9" y2="115.5" stroke="#222" stroke-width="0.9"/>
<text x="386.6" y="113.3" font-size="5.2" fill="#333" stroke="#333" stroke-width="0.1" text-anchor="middle">0.0023</text>
<circle cx="385.7" cy="149.6" r="1.0" fill="#1f3f85"/><circle cx="383.5" cy="151.7" r="1.0" fill="#1f3f85"/><circle cx="383.0" cy="144.5" r="1.0" fill="#1f3f85"/><circle cx="385.5" cy="148.5" r="1.0" fill="#1f3f85"/><circle cx="385.5" cy="147.7" r="1.0" fill="#1f3f85"/><circle cx="381.9" cy="147.4" r="1.0" fill="#1f3f85"/><circle cx="381.3" cy="148.9" r="1.0" fill="#1f3f85"/><circle cx="384.4" cy="138.8" r="1.0" fill="#1f3f85"/><circle cx="385.0" cy="145.6" r="1.0" fill="#1f3f85"/><circle cx="382.9" cy="146.1" r="1.0" fill="#1f3f85"/><circle cx="382.6" cy="140.9" r="1.0" fill="#1f3f85"/><circle cx="383.9" cy="139.2" r="1.0" fill="#1f3f85"/><circle cx="385.5" cy="149.9" r="1.0" fill="#1f3f85"/><circle cx="382.1" cy="146.7" r="1.0" fill="#1f3f85"/><circle cx="383.3" cy="138.0" r="1.0" fill="#1f3f85"/><circle cx="384.1" cy="151.1" r="1.0" fill="#1f3f85"/><circle cx="382.2" cy="152.4" r="1.0" fill="#1f3f85"/><circle cx="383.1" cy="144.8" r="1.0" fill="#1f3f85"/><circle cx="381.7" cy="150.4" r="1.0" fill="#1f3f85"/><circle cx="383.3" cy="149.9" r="1.0" fill="#1f3f85"/><circle cx="382.1" cy="148.3" r="1.0" fill="#1f3f85"/><circle cx="381.4" cy="150.7" r="1.0" fill="#1f3f85"/><circle cx="382.9" cy="151.4" r="1.0" fill="#1f3f85"/><circle cx="381.8" cy="146.6" r="1.0" fill="#1f3f85"/><circle cx="381.7" cy="146.0" r="1.0" fill="#1f3f85"/><circle cx="381.7" cy="149.8" r="1.0" fill="#1f3f85"/><circle cx="383.0" cy="147.7" r="1.0" fill="#1f3f85"/><circle cx="382.6" cy="145.9" r="1.0" fill="#1f3f85"/><circle cx="384.2" cy="156.1" r="1.0" fill="#1f3f85"/><circle cx="383.0" cy="147.7" r="1.0" fill="#1f3f85"/><circle cx="382.8" cy="136.0" r="1.0" fill="#1f3f85"/><circle cx="382.4" cy="158.0" r="1.0" fill="#1f3f85"/><circle cx="383.2" cy="165.6" r="1.0" fill="#1f3f85"/><circle cx="383.6" cy="185.9" r="1.0" fill="#1f3f85"/><line x1="379.8" y1="149.2" x2="387.0" y2="149.2" stroke="#000" stroke-width="0.9"/>
<rect x="388.8" y="135.2" width="1.9" height="1.9" fill="#b3002d"/><rect x="389.8" y="145.8" width="1.9" height="1.9" fill="#b3002d"/><rect x="389.4" y="128.3" width="1.9" height="1.9" fill="#b3002d"/><rect x="388.9" y="129.7" width="1.9" height="1.9" fill="#b3002d"/><rect x="391.6" y="154.5" width="1.9" height="1.9" fill="#b3002d"/><rect x="388.2" y="145.1" width="1.9" height="1.9" fill="#b3002d"/><rect x="391.3" y="152.5" width="1.9" height="1.9" fill="#b3002d"/><rect x="390.9" y="133.0" width="1.9" height="1.9" fill="#b3002d"/><rect x="388.9" y="129.9" width="1.9" height="1.9" fill="#b3002d"/><rect x="390.1" y="131.7" width="1.9" height="1.9" fill="#b3002d"/><rect x="392.2" y="149.4" width="1.9" height="1.9" fill="#b3002d"/><rect x="392.5" y="145.0" width="1.9" height="1.9" fill="#b3002d"/><rect x="390.4" y="151.1" width="1.9" height="1.9" fill="#b3002d"/><rect x="391.2" y="152.5" width="1.9" height="1.9" fill="#b3002d"/><rect x="391.0" y="137.7" width="1.9" height="1.9" fill="#b3002d"/><rect x="389.5" y="156.3" width="1.9" height="1.9" fill="#b3002d"/><rect x="390.4" y="141.1" width="1.9" height="1.9" fill="#b3002d"/><rect x="390.5" y="134.8" width="1.9" height="1.9" fill="#b3002d"/><rect x="389.8" y="157.6" width="1.9" height="1.9" fill="#b3002d"/><rect x="391.5" y="148.7" width="1.9" height="1.9" fill="#b3002d"/><rect x="389.9" y="139.4" width="1.9" height="1.9" fill="#b3002d"/><rect x="391.3" y="141.3" width="1.9" height="1.9" fill="#b3002d"/><rect x="389.0" y="125.8" width="1.9" height="1.9" fill="#b3002d"/><rect x="390.0" y="158.1" width="1.9" height="1.9" fill="#b3002d"/><line x1="387.5" y1="144.4" x2="394.7" y2="144.4" stroke="#000" stroke-width="0.9"/>
<text transform="translate(386.8,208.0) rotate(-45)" font-size="6.6" font-style="italic" fill="#222" stroke="#222" stroke-width="0.12" text-anchor="middle" dy="2.3">BCL3</text>
<line x1="401.1" y1="90.9" x2="419.5" y2="90.9" stroke="#222" stroke-width="0.9"/>
<text x="410.3" y="88.7" font-size="5.2" fill="#333" stroke="#333" stroke-width="0.1" text-anchor="middle">0.0099</text>
<circle cx="406.1" cy="118.7" r="1.0" fill="#1f3f85"/><circle cx="407.0" cy="113.6" r="1.0" fill="#1f3f85"/><circle cx="405.2" cy="111.1" r="1.0" fill="#1f3f85"/><circle cx="407.6" cy="117.0" r="1.0" fill="#1f3f85"/><circle cx="407.0" cy="115.2" r="1.0" fill="#1f3f85"/><circle cx="407.4" cy="120.1" r="1.0" fill="#1f3f85"/><circle cx="407.5" cy="119.9" r="1.0" fill="#1f3f85"/><circle cx="407.5" cy="112.1" r="1.0" fill="#1f3f85"/><circle cx="406.1" cy="119.4" r="1.0" fill="#1f3f85"/><circle cx="406.1" cy="115.2" r="1.0" fill="#1f3f85"/><circle cx="407.0" cy="117.7" r="1.0" fill="#1f3f85"/><circle cx="406.3" cy="110.6" r="1.0" fill="#1f3f85"/><circle cx="404.3" cy="109.0" r="1.0" fill="#1f3f85"/><circle cx="407.3" cy="123.0" r="1.0" fill="#1f3f85"/><circle cx="404.6" cy="113.4" r="1.0" fill="#1f3f85"/><circle cx="405.9" cy="115.3" r="1.0" fill="#1f3f85"/><circle cx="405.8" cy="109.0" r="1.0" fill="#1f3f85"/><circle cx="404.8" cy="123.8" r="1.0" fill="#1f3f85"/><circle cx="406.3" cy="120.4" r="1.0" fill="#1f3f85"/><circle cx="406.3" cy="123.3" r="1.0" fill="#1f3f85"/><circle cx="407.2" cy="119.7" r="1.0" fill="#1f3f85"/><circle cx="406.5" cy="117.1" r="1.0" fill="#1f3f85"/><circle cx="405.3" cy="107.8" r="1.0" fill="#1f3f85"/><circle cx="406.3" cy="109.9" r="1.0" fill="#1f3f85"/><circle cx="407.8" cy="119.5" r="1.0" fill="#1f3f85"/><circle cx="406.5" cy="110.1" r="1.0" fill="#1f3f85"/><circle cx="407.1" cy="123.3" r="1.0" fill="#1f3f85"/><circle cx="404.3" cy="108.4" r="1.0" fill="#1f3f85"/><circle cx="406.7" cy="121.4" r="1.0" fill="#1f3f85"/><circle cx="404.7" cy="117.9" r="1.0" fill="#1f3f85"/><circle cx="404.9" cy="107.0" r="1.0" fill="#1f3f85"/><circle cx="405.6" cy="127.0" r="1.0" fill="#1f3f85"/><circle cx="405.7" cy="96.0" r="1.0" fill="#1f3f85"/><line x1="402.4" y1="115.0" x2="409.6" y2="115.0" stroke="#000" stroke-width="0.9"/>
<rect x="415.0" y="102.6" width="1.9" height="1.9" fill="#b3002d"/><rect x="414.2" y="116.6" width="1.9" height="1.9" fill="#b3002d"/><rect x="414.5" y="121.2" width="1.9" height="1.9" fill="#b3002d"/><rect x="413.8" y="100.6" width="1.9" height="1.9" fill="#b3002d"/><rect x="411.8" y="120.6" width="1.9" height="1.9" fill="#b3002d"/><rect x="412.7" y="117.5" width="1.9" height="1.9" fill="#b3002d"/><rect x="412.2" y="100.8" width="1.9" height="1.9" fill="#b3002d"/><rect x="411.9" y="108.2" width="1.9" height="1.9" fill="#b3002d"/><rect x="412.0" y="125.0" width="1.9" height="1.9" fill="#b3002d"/><rect x="411.2" y="110.8" width="1.9" height="1.9" fill="#b3002d"/><rect x="413.0" y="127.7" width="1.9" height="1.9" fill="#b3002d"/><rect x="413.8" y="125.1" width="1.9" height="1.9" fill="#b3002d"/><rect x="414.6" y="103.6" width="1.9" height="1.9" fill="#b3002d"/><rect x="414.9" y="116.4" width="1.9" height="1.9" fill="#b3002d"/><rect x="413.3" y="123.0" width="1.9" height="1.9" fill="#b3002d"/><rect x="410.6" y="108.4" width="1.9" height="1.9" fill="#b3002d"/><rect x="412.1" y="123.7" width="1.9" height="1.9" fill="#b3002d"/><rect x="411.0" y="106.2" width="1.9" height="1.9" fill="#b3002d"/><rect x="414.7" y="113.1" width="1.9" height="1.9" fill="#b3002d"/><rect x="412.4" y="120.9" width="1.9" height="1.9" fill="#b3002d"/><rect x="413.7" y="123.1" width="1.9" height="1.9" fill="#b3002d"/><rect x="412.8" y="115.1" width="1.9" height="1.9" fill="#b3002d"/><rect x="413.3" y="95.0" width="1.9" height="1.9" fill="#b3002d"/><rect x="413.8" y="129.1" width="1.9" height="1.9" fill="#b3002d"/><line x1="410.4" y1="109.4" x2="417.6" y2="109.4" stroke="#000" stroke-width="0.9"/>
<text transform="translate(409.5,208.0) rotate(-45)" font-size="6.6" font-style="italic" fill="#222" stroke="#222" stroke-width="0.12" text-anchor="middle" dy="2.3">NFKBIA</text>
<line x1="422.3" y1="123.4" x2="440.9" y2="123.4" stroke="#222" stroke-width="0.9"/>
<text x="431.6" y="121.2" font-size="5.2" fill="#333" stroke="#333" stroke-width="0.1" text-anchor="middle">0.0009</text>
<circle cx="430.3" cy="148.6" r="1.0" fill="#1f3f85"/><circle cx="429.4" cy="147.5" r="1.0" fill="#1f3f85"/><circle cx="427.6" cy="155.4" r="1.0" fill="#1f3f85"/><circle cx="427.4" cy="150.7" r="1.0" fill="#1f3f85"/><circle cx="429.3" cy="160.3" r="1.0" fill="#1f3f85"/><circle cx="430.2" cy="146.7" r="1.0" fill="#1f3f85"/><circle cx="429.2" cy="145.4" r="1.0" fill="#1f3f85"/><circle cx="430.3" cy="147.6" r="1.0" fill="#1f3f85"/><circle cx="429.4" cy="142.1" r="1.0" fill="#1f3f85"/><circle cx="430.2" cy="136.9" r="1.0" fill="#1f3f85"/><circle cx="428.2" cy="156.2" r="1.0" fill="#1f3f85"/><circle cx="430.8" cy="146.3" r="1.0" fill="#1f3f85"/><circle cx="430.2" cy="154.2" r="1.0" fill="#1f3f85"/><circle cx="427.8" cy="139.7" r="1.0" fill="#1f3f85"/><circle cx="428.1" cy="141.3" r="1.0" fill="#1f3f85"/><circle cx="428.2" cy="149.4" r="1.0" fill="#1f3f85"/><circle cx="430.6" cy="147.9" r="1.0" fill="#1f3f85"/><circle cx="429.7" cy="139.0" r="1.0" fill="#1f3f85"/><circle cx="427.6" cy="140.3" r="1.0" fill="#1f3f85"/><circle cx="430.2" cy="143.4" r="1.0" fill="#1f3f85"/><circle cx="428.3" cy="148.5" r="1.0" fill="#1f3f85"/><circle cx="430.4" cy="138.4" r="1.0" fill="#1f3f85"/><circle cx="428.2" cy="150.2" r="1.0" fill="#1f3f85"/><circle cx="427.3" cy="149.1" r="1.0" fill="#1f3f85"/><circle cx="428.4" cy="146.8" r="1.0" fill="#1f3f85"/><circle cx="429.0" cy="152.0" r="1.0" fill="#1f3f85"/><circle cx="428.9" cy="148.6" r="1.0" fill="#1f3f85"/><circle cx="429.4" cy="152.4" r="1.0" fill="#1f3f85"/><circle cx="428.0" cy="137.3" r="1.0" fill="#1f3f85"/><circle cx="428.2" cy="151.7" r="1.0" fill="#1f3f85"/><circle cx="427.9" cy="135.0" r="1.0" fill="#1f3f85"/><circle cx="430.5" cy="161.0" r="1.0" fill="#1f3f85"/><circle cx="429.2" cy="177.2" r="1.0" fill="#1f3f85"/><line x1="425.6" y1="148.0" x2="432.8" y2="148.0" stroke="#000" stroke-width="0.9"/>
<rect x="438.4" y="144.2" width="1.9" height="1.9" fill="#b3002d"/><rect x="437.9" y="138.0" width="1.9" height="1.9" fill="#b3002d"/><rect x="438.2" y="130.6" width="1.9" height="1.9" fill="#b3002d"/><rect x="437.3" y="136.3" width="1.9" height="1.9" fill="#b3002d"/><rect x="437.5" y="141.2" width="1.9" height="1.9" fill="#b3002d"/><rect x="437.7" y="148.1" width="1.9" height="1.9" fill="#b3002d"/><rect x="436.5" y="140.4" width="1.9" height="1.9" fill="#b3002d"/><rect x="437.9" y="144.5" width="1.9" height="1.9" fill="#b3002d"/><rect x="438.2" y="145.6" width="1.9" height="1.9" fill="#b3002d"/><rect x="436.6" y="144.4" width="1.9" height="1.9" fill="#b3002d"/><rect x="436.0" y="131.3" width="1.9" height="1.9" fill="#b3002d"/><rect x="436.1" y="131.1" width="1.9" height="1.9" fill="#b3002d"/><rect x="437.0" y="133.8" width="1.9" height="1.9" fill="#b3002d"/><rect x="436.8" y="152.6" width="1.9" height="1.9" fill="#b3002d"/><rect x="436.5" y="145.2" width="1.9" height="1.9" fill="#b3002d"/><rect x="436.1" y="135.3" width="1.9" height="1.9" fill="#b3002d"/><rect x="437.4" y="150.3" width="1.9" height="1.9" fill="#b3002d"/><rect x="437.4" y="145.0" width="1.9" height="1.9" fill="#b3002d"/><rect x="438.3" y="147.6" width="1.9" height="1.9" fill="#b3002d"/><rect x="438.3" y="133.5" width="1.9" height="1.9" fill="#b3002d"/><rect x="434.4" y="145.1" width="1.9" height="1.9" fill="#b3002d"/><rect x="436.1" y="135.9" width="1.9" height="1.9" fill="#b3002d"/><rect x="437.2" y="126.3" width="1.9" height="1.9" fill="#b3002d"/><rect x="436.6" y="157.1" width="1.9" height="1.9" fill="#b3002d"/><line x1="433.9" y1="142.2" x2="441.1" y2="142.2" stroke="#000" stroke-width="0.9"/>
<text transform="translate(432.9,208.0) rotate(-45)" font-size="6.6" font-style="italic" fill="#222" stroke="#222" stroke-width="0.12" text-anchor="middle" dy="2.3">ICOS</text>
<line x1="444.8" y1="113.4" x2="463.2" y2="113.4" stroke="#222" stroke-width="0.9"/>
<text x="454.0" y="111.2" font-size="5.2" fill="#333" stroke="#333" stroke-width="0.1" text-anchor="middle">0.0046</text>
<circle cx="450.7" cy="151.1" r="1.0" fill="#1f3f85"/><circle cx="454.2" cy="138.3" r="1.0" fill="#1f3f85"/><circle cx="452.7" cy="127.6" r="1.0" fill="#1f3f85"/><circle cx="451.0" cy="131.5" r="1.0" fill="#1f3f85"/><circle cx="453.4" cy="144.3" r="1.0" fill="#1f3f85"/><circle cx="452.1" cy="131.1" r="1.0" fill="#1f3f85"/><circle cx="451.8" cy="143.6" r="1.0" fill="#1f3f85"/><circle cx="453.1" cy="156.6" r="1.0" fill="#1f3f85"/><circle cx="453.3" cy="145.1" r="1.0" fill="#1f3f85"/><circle cx="452.2" cy="140.3" r="1.0" fill="#1f3f85"/><circle cx="451.7" cy="126.8" r="1.0" fill="#1f3f85"/><circle cx="451.8" cy="143.8" r="1.0" fill="#1f3f85"/><circle cx="451.8" cy="148.1" r="1.0" fill="#1f3f85"/><circle cx="451.0" cy="136.1" r="1.0" fill="#1f3f85"/><circle cx="450.8" cy="144.2" r="1.0" fill="#1f3f85"/><circle cx="452.5" cy="156.6" r="1.0" fill="#1f3f85"/><circle cx="454.1" cy="150.1" r="1.0" fill="#1f3f85"/><circle cx="452.6" cy="153.9" r="1.0" fill="#1f3f85"/><circle cx="451.9" cy="145.7" r="1.0" fill="#1f3f85"/><circle cx="450.2" cy="145.0" r="1.0" fill="#1f3f85"/><circle cx="454.3" cy="139.0" r="1.0" fill="#1f3f85"/><circle cx="451.5" cy="136.3" r="1.0" fill="#1f3f85"/><circle cx="451.4" cy="144.5" r="1.0" fill="#1f3f85"/><circle cx="452.9" cy="125.9" r="1.0" fill="#1f3f85"/><circle cx="453.9" cy="148.1" r="1.0" fill="#1f3f85"/><circle cx="450.5" cy="143.6" r="1.0" fill="#1f3f85"/><circle cx="450.9" cy="129.8" r="1.0" fill="#1f3f85"/><circle cx="451.0" cy="138.7" r="1.0" fill="#1f3f85"/><circle cx="453.9" cy="153.5" r="1.0" fill="#1f3f85"/><circle cx="452.4" cy="133.1" r="1.0" fill="#1f3f85"/><circle cx="451.2" cy="125.0" r="1.0" fill="#1f3f85"/><circle cx="452.7" cy="157.0" r="1.0" fill="#1f3f85"/><line x1="448.7" y1="141.5" x2="455.9" y2="141.5" stroke="#000" stroke-width="0.9"/>
<rect x="459.5" y="133.8" width="1.9" height="1.9" fill="#b3002d"/><rect x="459.7" y="122.1" width="1.9" height="1.9" fill="#b3002d"/><rect x="460.1" y="150.1" width="1.9" height="1.9" fill="#b3002d"/><rect x="460.3" y="135.8" width="1.9" height="1.9" fill="#b3002d"/><rect x="458.7" y="127.7" width="1.9" height="1.9" fill="#b3002d"/><rect x="458.9" y="133.2" width="1.9" height="1.9" fill="#b3002d"/><rect x="459.8" y="147.9" width="1.9" height="1.9" fill="#b3002d"/><rect x="460.1" y="125.6" width="1.9" height="1.9" fill="#b3002d"/><rect x="458.5" y="124.4" width="1.9" height="1.9" fill="#b3002d"/><rect x="458.6" y="129.9" width="1.9" height="1.9" fill="#b3002d"/><rect x="459.6" y="129.7" width="1.9" height="1.9" fill="#b3002d"/><rect x="459.0" y="129.8" width="1.9" height="1.9" fill="#b3002d"/><rect x="459.8" y="137.5" width="1.9" height="1.9" fill="#b3002d"/><rect x="460.8" y="132.6" width="1.9" height="1.9" fill="#b3002d"/><rect x="458.8" y="120.1" width="1.9" height="1.9" fill="#b3002d"/><rect x="459.4" y="126.0" width="1.9" height="1.9" fill="#b3002d"/><rect x="457.6" y="131.5" width="1.9" height="1.9" fill="#b3002d"/><rect x="459.8" y="151.0" width="1.9" height="1.9" fill="#b3002d"/><rect x="459.9" y="128.3" width="1.9" height="1.9" fill="#b3002d"/><rect x="459.5" y="140.0" width="1.9" height="1.9" fill="#b3002d"/><rect x="458.4" y="123.0" width="1.9" height="1.9" fill="#b3002d"/><rect x="457.3" y="137.7" width="1.9" height="1.9" fill="#b3002d"/><rect x="458.2" y="118.8" width="1.9" height="1.9" fill="#b3002d"/><rect x="458.5" y="151.6" width="1.9" height="1.9" fill="#b3002d"/><line x1="456.4" y1="132.8" x2="463.6" y2="132.8" stroke="#000" stroke-width="0.9"/>
<text transform="translate(455.6,208.0) rotate(-45)" font-size="6.6" font-style="italic" fill="#222" stroke="#222" stroke-width="0.12" text-anchor="middle" dy="2.3">CD28</text>
<line x1="467" y1="107.5" x2="485.6" y2="107.5" stroke="#222" stroke-width="0.9"/>
<text x="476.3" y="105.3" font-size="5.2" fill="#333" stroke="#333" stroke-width="0.1" text-anchor="middle">0.0016</text>
<circle cx="478.2" cy="118.6" r="1.0" fill="#1f3f85"/><circle cx="478.5" cy="119.7" r="1.0" fill="#1f3f85"/><circle cx="474.5" cy="119.9" r="1.0" fill="#1f3f85"/><circle cx="478.5" cy="119.4" r="1.0" fill="#1f3f85"/><circle cx="475.3" cy="117.7" r="1.0" fill="#1f3f85"/><circle cx="474.9" cy="120.6" r="1.0" fill="#1f3f85"/><circle cx="474.9" cy="120.3" r="1.0" fill="#1f3f85"/><circle cx="478.2" cy="119.4" r="1.0" fill="#1f3f85"/><circle cx="476.8" cy="120.5" r="1.0" fill="#1f3f85"/><circle cx="476.6" cy="119.1" r="1.0" fill="#1f3f85"/><circle cx="476.9" cy="122.0" r="1.0" fill="#1f3f85"/><circle cx="475.5" cy="120.6" r="1.0" fill="#1f3f85"/><circle cx="474.9" cy="118.1" r="1.0" fill="#1f3f85"/><circle cx="474.5" cy="120.1" r="1.0" fill="#1f3f85"/><circle cx="475.2" cy="120.0" r="1.0" fill="#1f3f85"/><circle cx="476.8" cy="119.5" r="1.0" fill="#1f3f85"/><circle cx="474.6" cy="120.4" r="1.0" fill="#1f3f85"/><circle cx="474.5" cy="119.0" r="1.0" fill="#1f3f85"/><circle cx="475.4" cy="118.1" r="1.0" fill="#1f3f85"/><circle cx="474.7" cy="121.2" r="1.0" fill="#1f3f85"/><circle cx="474.6" cy="118.7" r="1.0" fill="#1f3f85"/><circle cx="474.6" cy="119.6" r="1.0" fill="#1f3f85"/><circle cx="474.5" cy="119.7" r="1.0" fill="#1f3f85"/><circle cx="475.7" cy="120.3" r="1.0" fill="#1f3f85"/><circle cx="478.1" cy="119.8" r="1.0" fill="#1f3f85"/><circle cx="476.9" cy="121.7" r="1.0" fill="#1f3f85"/><circle cx="474.8" cy="121.4" r="1.0" fill="#1f3f85"/><circle cx="475.0" cy="117.9" r="1.0" fill="#1f3f85"/><circle cx="475.7" cy="119.2" r="1.0" fill="#1f3f85"/><circle cx="476.3" cy="118.3" r="1.0" fill="#1f3f85"/><circle cx="476.3" cy="117.5" r="1.0" fill="#1f3f85"/><circle cx="476.5" cy="122.0" r="1.0" fill="#1f3f85"/><line x1="472.8" y1="119.7" x2="480.0" y2="119.7" stroke="#000" stroke-width="0.9"/>
<rect x="483.5" y="116.3" width="1.9" height="1.9" fill="#b3002d"/><rect x="480.9" y="116.4" width="1.9" height="1.9" fill="#b3002d"/><rect x="483.6" y="114.2" width="1.9" height="1.9" fill="#b3002d"/><rect x="481.0" y="116.6" width="1.9" height="1.9" fill="#b3002d"/><rect x="484.0" y="119.0" width="1.9" height="1.9" fill="#b3002d"/><rect x="483.7" y="116.3" width="1.9" height="1.9" fill="#b3002d"/><rect x="482.2" y="114.7" width="1.9" height="1.9" fill="#b3002d"/><rect x="482.7" y="119.1" width="1.9" height="1.9" fill="#b3002d"/><rect x="484.4" y="113.8" width="1.9" height="1.9" fill="#b3002d"/><rect x="482.1" y="119.8" width="1.9" height="1.9" fill="#b3002d"/><rect x="481.3" y="118.0" width="1.9" height="1.9" fill="#b3002d"/><rect x="482.9" y="120.8" width="1.9" height="1.9" fill="#b3002d"/><rect x="484.0" y="117.7" width="1.9" height="1.9" fill="#b3002d"/><rect x="481.0" y="113.6" width="1.9" height="1.9" fill="#b3002d"/><rect x="483.7" y="114.7" width="1.9" height="1.9" fill="#b3002d"/><rect x="482.2" y="121.6" width="1.9" height="1.9" fill="#b3002d"/><rect x="483.4" y="115.8" width="1.9" height="1.9" fill="#b3002d"/><rect x="482.4" y="121.6" width="1.9" height="1.9" fill="#b3002d"/><rect x="484.7" y="115.5" width="1.9" height="1.9" fill="#b3002d"/><rect x="482.8" y="115.3" width="1.9" height="1.9" fill="#b3002d"/><rect x="483.6" y="120.7" width="1.9" height="1.9" fill="#b3002d"/><rect x="484.0" y="119.1" width="1.9" height="1.9" fill="#b3002d"/><rect x="481.1" y="112.6" width="1.9" height="1.9" fill="#b3002d"/><rect x="483.3" y="122.0" width="1.9" height="1.9" fill="#b3002d"/><rect x="482.7" y="127.5" width="1.9" height="1.9" fill="#b3002d"/><line x1="479.8" y1="116.4" x2="487.0" y2="116.4" stroke="#000" stroke-width="0.9"/>
<text transform="translate(479.4,208.0) rotate(-45)" font-size="6.6" font-style="italic" fill="#222" stroke="#222" stroke-width="0.12" text-anchor="middle" dy="2.3">MIF</text>
<line x1="491.8" y1="71" x2="510.7" y2="71" stroke="#222" stroke-width="0.9"/>
<text x="501.2" y="68.8" font-size="5.2" fill="#333" stroke="#333" stroke-width="0.1" text-anchor="middle">0.0024</text>
<circle cx="498.9" cy="95.4" r="1.0" fill="#1f3f85"/><circle cx="497.4" cy="96.2" r="1.0" fill="#1f3f85"/><circle cx="496.6" cy="91.1" r="1.0" fill="#1f3f85"/><circle cx="498.9" cy="90.4" r="1.0" fill="#1f3f85"/><circle cx="499.4" cy="102.4" r="1.0" fill="#1f3f85"/><circle cx="499.6" cy="88.8" r="1.0" fill="#1f3f85"/><circle cx="500.7" cy="88.0" r="1.0" fill="#1f3f85"/><circle cx="498.2" cy="93.9" r="1.0" fill="#1f3f85"/><circle cx="498.3" cy="93.2" r="1.0" fill="#1f3f85"/><circle cx="498.0" cy="94.1" r="1.0" fill="#1f3f85"/><circle cx="498.8" cy="81.2" r="1.0" fill="#1f3f85"/><circle cx="499.5" cy="94.8" r="1.0" fill="#1f3f85"/><circle cx="500.4" cy="95.0" r="1.0" fill="#1f3f85"/><circle cx="497.3" cy="83.5" r="1.0" fill="#1f3f85"/><circle cx="499.1" cy="86.8" r="1.0" fill="#1f3f85"/><circle cx="499.8" cy="85.5" r="1.0" fill="#1f3f85"/><circle cx="500.0" cy="90.7" r="1.0" fill="#1f3f85"/><circle cx="498.5" cy="91.2" r="1.0" fill="#1f3f85"/><circle cx="496.8" cy="90.0" r="1.0" fill="#1f3f85"/><circle cx="498.2" cy="83.7" r="1.0" fill="#1f3f85"/><circle cx="499.1" cy="83.1" r="1.0" fill="#1f3f85"/><circle cx="500.1" cy="93.7" r="1.0" fill="#1f3f85"/><circle cx="497.5" cy="93.3" r="1.0" fill="#1f3f85"/><circle cx="498.0" cy="90.1" r="1.0" fill="#1f3f85"/><circle cx="498.2" cy="88.9" r="1.0" fill="#1f3f85"/><circle cx="497.2" cy="83.6" r="1.0" fill="#1f3f85"/><circle cx="500.6" cy="97.3" r="1.0" fill="#1f3f85"/><circle cx="498.1" cy="93.4" r="1.0" fill="#1f3f85"/><circle cx="498.6" cy="82.1" r="1.0" fill="#1f3f85"/><circle cx="501.1" cy="91.2" r="1.0" fill="#1f3f85"/><circle cx="499.6" cy="79.7" r="1.0" fill="#1f3f85"/><circle cx="498.2" cy="103.3" r="1.0" fill="#1f3f85"/><line x1="495.2" y1="91.1" x2="502.4" y2="91.1" stroke="#000" stroke-width="0.9"/>
<rect x="504.9" y="96.6" width="1.9" height="1.9" fill="#b3002d"/><rect x="505.9" y="90.7" width="1.9" height="1.9" fill="#b3002d"/><rect x="505.7" y="97.0" width="1.9" height="1.9" fill="#b3002d"/><rect x="503.7" y="86.3" width="1.9" height="1.9" fill="#b3002d"/><rect x="506.3" y="90.3" width="1.9" height="1.9" fill="#b3002d"/><rect x="503.7" y="82.8" width="1.9" height="1.9" fill="#b3002d"/><rect x="507.6" y="85.5" width="1.9" height="1.9" fill="#b3002d"/><rect x="505.9" y="98.6" width="1.9" height="1.9" fill="#b3002d"/><rect x="506.2" y="89.3" width="1.9" height="1.9" fill="#b3002d"/><rect x="507.5" y="86.6" width="1.9" height="1.9" fill="#b3002d"/><rect x="504.4" y="81.3" width="1.9" height="1.9" fill="#b3002d"/><rect x="504.2" y="82.2" width="1.9" height="1.9" fill="#b3002d"/><rect x="506.1" y="85.7" width="1.9" height="1.9" fill="#b3002d"/><rect x="507.0" y="80.7" width="1.9" height="1.9" fill="#b3002d"/><rect x="507.4" y="88.2" width="1.9" height="1.9" fill="#b3002d"/><rect x="506.9" y="86.3" width="1.9" height="1.9" fill="#b3002d"/><rect x="505.9" y="83.2" width="1.9" height="1.9" fill="#b3002d"/><rect x="504.9" y="93.0" width="1.9" height="1.9" fill="#b3002d"/><rect x="506.2" y="97.7" width="1.9" height="1.9" fill="#b3002d"/><rect x="506.1" y="87.3" width="1.9" height="1.9" fill="#b3002d"/><rect x="506.8" y="78.4" width="1.9" height="1.9" fill="#b3002d"/><rect x="506.7" y="86.8" width="1.9" height="1.9" fill="#b3002d"/><rect x="505.4" y="76.1" width="1.9" height="1.9" fill="#b3002d"/><rect x="505.8" y="99.8" width="1.9" height="1.9" fill="#b3002d"/><line x1="502.8" y1="86.7" x2="510.0" y2="86.7" stroke="#000" stroke-width="0.9"/>
<text transform="translate(502.1,208.0) rotate(-45)" font-size="6.6" font-style="italic" fill="#222" stroke="#222" stroke-width="0.12" text-anchor="middle" dy="2.3">GAPDH</text>
<text transform="translate(323.3,130.5) rotate(-90)" font-size="8.2" fill="#222" stroke="#222" stroke-width="0.25" text-anchor="middle" textLength="16.8" lengthAdjust="spacingAndGlyphs">Counts</text>
<circle cx="354.8" cy="49.4" r="2.6" fill="#1f3f85"/>
<rect x="352.2" y="55.8" width="5.4" height="5" fill="#b3002d"/>
<text x="360.4" y="51.3" font-size="5.3" fill="#222" stroke="#222" stroke-width="0.1">No GVHD</text>
<text x="360.4" y="60.2" font-size="5.3" fill="#222" stroke="#222" stroke-width="0.1">GVHD</text>
<line x1="351.9" y1="255.7" x2="351.9" y2="387.5" stroke="#111" stroke-width="1.25"/>
<line x1="351.3" y1="386.9" x2="508.8" y2="386.9" stroke="#111" stroke-width="1.25"/>
<line x1="349.3" y1="258.3" x2="351.9" y2="258.3" stroke="#111" stroke-width="0.8"/>
<text x="346.4" y="260.5" font-size="6.4" fill="#222" stroke="#222" stroke-width="0.12" text-anchor="end">16384</text>
<line x1="349.3" y1="278.2" x2="351.9" y2="278.2" stroke="#111" stroke-width="0.8"/>
<text x="346.4" y="280.4" font-size="6.4" fill="#222" stroke="#222" stroke-width="0.12" text-anchor="end">4096</text>
<line x1="349.3" y1="298.0" x2="351.9" y2="298.0" stroke="#111" stroke-width="0.8"/>
<text x="346.4" y="300.2" font-size="6.4" fill="#222" stroke="#222" stroke-width="0.12" text-anchor="end">56</text>
<line x1="349.3" y1="317.8" x2="351.9" y2="317.8" stroke="#111" stroke-width="0.8"/>
<text x="346.4" y="320.0" font-size="6.4" fill="#222" stroke="#222" stroke-width="0.12" text-anchor="end">64</text>
<line x1="349.3" y1="337.6" x2="351.9" y2="337.6" stroke="#111" stroke-width="0.8"/>
<text x="346.4" y="339.8" font-size="6.4" fill="#222" stroke="#222" stroke-width="0.12" text-anchor="end">16</text>
<line x1="349.3" y1="357.4" x2="351.9" y2="357.4" stroke="#111" stroke-width="0.8"/>
<text x="346.4" y="359.6" font-size="6.4" fill="#222" stroke="#222" stroke-width="0.12" text-anchor="end">4</text>
<line x1="349.3" y1="377.2" x2="351.9" y2="377.2" stroke="#111" stroke-width="0.8"/>
<text x="346.4" y="379.4" font-size="6.4" fill="#222" stroke="#222" stroke-width="0.12" text-anchor="end">1</text>
<line x1="355.1" y1="279.4" x2="374.2" y2="279.4" stroke="#222" stroke-width="0.9"/>
<text x="364.6" y="277.2" font-size="5.2" fill="#333" stroke="#333" stroke-width="0.1" text-anchor="middle">0.0124</text>
<circle cx="360.8" cy="293.4" r="1.0" fill="#1f3f85"/><circle cx="358.7" cy="293.4" r="1.0" fill="#1f3f85"/><circle cx="360.9" cy="291.4" r="1.0" fill="#1f3f85"/><circle cx="362.6" cy="294.6" r="1.0" fill="#1f3f85"/><circle cx="361.7" cy="290.5" r="1.0" fill="#1f3f85"/><circle cx="359.3" cy="289.8" r="1.0" fill="#1f3f85"/><circle cx="359.1" cy="295.6" r="1.0" fill="#1f3f85"/><circle cx="362.1" cy="295.8" r="1.0" fill="#1f3f85"/><circle cx="360.6" cy="293.5" r="1.0" fill="#1f3f85"/><circle cx="362.7" cy="292.4" r="1.0" fill="#1f3f85"/><circle cx="360.2" cy="302.1" r="1.0" fill="#1f3f85"/><circle cx="360.9" cy="293.5" r="1.0" fill="#1f3f85"/><circle cx="360.2" cy="299.9" r="1.0" fill="#1f3f85"/><circle cx="359.2" cy="300.0" r="1.0" fill="#1f3f85"/><circle cx="360.5" cy="301.6" r="1.0" fill="#1f3f85"/><circle cx="360.6" cy="294.4" r="1.0" fill="#1f3f85"/><circle cx="359.9" cy="293.6" r="1.0" fill="#1f3f85"/><circle cx="362.9" cy="293.9" r="1.0" fill="#1f3f85"/><circle cx="361.4" cy="292.4" r="1.0" fill="#1f3f85"/><circle cx="359.6" cy="301.2" r="1.0" fill="#1f3f85"/><circle cx="359.1" cy="300.9" r="1.0" fill="#1f3f85"/><circle cx="358.5" cy="294.3" r="1.0" fill="#1f3f85"/><circle cx="359.0" cy="291.7" r="1.0" fill="#1f3f85"/><circle cx="358.8" cy="295.9" r="1.0" fill="#1f3f85"/><circle cx="358.6" cy="291.9" r="1.0" fill="#1f3f85"/><circle cx="361.8" cy="292.9" r="1.0" fill="#1f3f85"/><circle cx="359.7" cy="292.2" r="1.0" fill="#1f3f85"/><circle cx="360.1" cy="300.9" r="1.0" fill="#1f3f85"/><circle cx="360.0" cy="294.6" r="1.0" fill="#1f3f85"/><circle cx="360.3" cy="289.2" r="1.0" fill="#1f3f85"/><circle cx="360.0" cy="288.5" r="1.0" fill="#1f3f85"/><circle cx="360.5" cy="302.7" r="1.0" fill="#1f3f85"/><line x1="356.9" y1="294.2" x2="364.1" y2="294.2" stroke="#000" stroke-width="0.9"/>
<rect x="367.2" y="303.4" width="1.9" height="1.9" fill="#b3002d"/><rect x="365.8" y="297.6" width="1.9" height="1.9" fill="#b3002d"/><rect x="365.8" y="301.2" width="1.9" height="1.9" fill="#b3002d"/><rect x="368.0" y="306.4" width="1.9" height="1.9" fill="#b3002d"/><rect x="366.7" y="306.2" width="1.9" height="1.9" fill="#b3002d"/><rect x="369.6" y="297.4" width="1.9" height="1.9" fill="#b3002d"/><rect x="368.1" y="306.0" width="1.9" height="1.9" fill="#b3002d"/><rect x="367.9" y="294.0" width="1.9" height="1.9" fill="#b3002d"/><rect x="367.8" y="299.2" width="1.9" height="1.9" fill="#b3002d"/><rect x="366.9" y="303.7" width="1.9" height="1.9" fill="#b3002d"/><rect x="369.4" y="297.4" width="1.9" height="1.9" fill="#b3002d"/><rect x="366.6" y="295.0" width="1.9" height="1.9" fill="#b3002d"/><rect x="366.8" y="306.1" width="1.9" height="1.9" fill="#b3002d"/><rect x="367.8" y="302.2" width="1.9" height="1.9" fill="#b3002d"/><rect x="369.3" y="296.2" width="1.9" height="1.9" fill="#b3002d"/><rect x="368.6" y="306.2" width="1.9" height="1.9" fill="#b3002d"/><rect x="367.3" y="305.8" width="1.9" height="1.9" fill="#b3002d"/><rect x="366.6" y="290.2" width="1.9" height="1.9" fill="#b3002d"/><rect x="367.4" y="295.0" width="1.9" height="1.9" fill="#b3002d"/><rect x="366.0" y="291.2" width="1.9" height="1.9" fill="#b3002d"/><rect x="368.0" y="294.7" width="1.9" height="1.9" fill="#b3002d"/><rect x="366.2" y="296.5" width="1.9" height="1.9" fill="#b3002d"/><rect x="366.8" y="289.8" width="1.9" height="1.9" fill="#b3002d"/><rect x="368.1" y="306.9" width="1.9" height="1.9" fill="#b3002d"/><line x1="364.9" y1="296.4" x2="372.1" y2="296.4" stroke="#000" stroke-width="0.9"/>
<text transform="translate(364.0,399.2) rotate(-45)" font-size="6.6" font-style="italic" fill="#222" stroke="#222" stroke-width="0.12" text-anchor="middle" dy="2.3">TGFBR2</text>
<line x1="377.6" y1="288.5" x2="396.4" y2="288.5" stroke="#222" stroke-width="0.9"/>
<text x="387.0" y="286.3" font-size="5.2" fill="#333" stroke="#333" stroke-width="0.1" text-anchor="middle">&lt;0.0001</text>
<circle cx="380.9" cy="302.0" r="1.0" fill="#1f3f85"/><circle cx="384.4" cy="301.0" r="1.0" fill="#1f3f85"/><circle cx="380.5" cy="306.9" r="1.0" fill="#1f3f85"/><circle cx="384.3" cy="317.6" r="1.0" fill="#1f3f85"/><circle cx="382.5" cy="323.1" r="1.0" fill="#1f3f85"/><circle cx="381.3" cy="314.3" r="1.0" fill="#1f3f85"/><circle cx="383.2" cy="301.8" r="1.0" fill="#1f3f85"/><circle cx="383.2" cy="323.4" r="1.0" fill="#1f3f85"/><circle cx="382.2" cy="306.3" r="1.0" fill="#1f3f85"/><circle cx="382.6" cy="320.1" r="1.0" fill="#1f3f85"/><circle cx="383.4" cy="301.0" r="1.0" fill="#1f3f85"/><circle cx="381.8" cy="315.6" r="1.0" fill="#1f3f85"/><circle cx="382.0" cy="314.4" r="1.0" fill="#1f3f85"/><circle cx="383.5" cy="314.2" r="1.0" fill="#1f3f85"/><circle cx="382.5" cy="314.6" r="1.0" fill="#1f3f85"/><circle cx="384.2" cy="303.8" r="1.0" fill="#1f3f85"/><circle cx="382.5" cy="303.7" r="1.0" fill="#1f3f85"/><circle cx="383.7" cy="312.0" r="1.0" fill="#1f3f85"/><circle cx="382.8" cy="319.9" r="1.0" fill="#1f3f85"/><circle cx="381.6" cy="302.6" r="1.0" fill="#1f3f85"/><circle cx="382.0" cy="309.0" r="1.0" fill="#1f3f85"/><circle cx="382.9" cy="300.3" r="1.0" fill="#1f3f85"/><circle cx="382.6" cy="297.3" r="1.0" fill="#1f3f85"/><circle cx="383.2" cy="322.7" r="1.0" fill="#1f3f85"/><circle cx="383.5" cy="306.9" r="1.0" fill="#1f3f85"/><circle cx="383.7" cy="308.4" r="1.0" fill="#1f3f85"/><circle cx="381.6" cy="313.0" r="1.0" fill="#1f3f85"/><circle cx="384.4" cy="309.3" r="1.0" fill="#1f3f85"/><circle cx="384.4" cy="302.8" r="1.0" fill="#1f3f85"/><circle cx="382.1" cy="304.2" r="1.0" fill="#1f3f85"/><circle cx="383.9" cy="295.6" r="1.0" fill="#1f3f85"/><circle cx="382.6" cy="324.0" r="1.0" fill="#1f3f85"/><line x1="379.1" y1="307.8" x2="386.3" y2="307.8" stroke="#000" stroke-width="0.9"/>
<rect x="389.1" y="339.0" width="1.9" height="1.9" fill="#b3002d"/><rect x="389.8" y="339.9" width="1.9" height="1.9" fill="#b3002d"/><rect x="391.4" y="317.6" width="1.9" height="1.9" fill="#b3002d"/><rect x="389.4" y="318.8" width="1.9" height="1.9" fill="#b3002d"/><rect x="388.5" y="325.2" width="1.9" height="1.9" fill="#b3002d"/><rect x="389.7" y="317.6" width="1.9" height="1.9" fill="#b3002d"/><rect x="391.0" y="325.5" width="1.9" height="1.9" fill="#b3002d"/><rect x="390.7" y="308.4" width="1.9" height="1.9" fill="#b3002d"/><rect x="391.7" y="321.8" width="1.9" height="1.9" fill="#b3002d"/><rect x="391.3" y="321.9" width="1.9" height="1.9" fill="#b3002d"/><rect x="390.2" y="337.9" width="1.9" height="1.9" fill="#b3002d"/><rect x="389.4" y="316.2" width="1.9" height="1.9" fill="#b3002d"/><rect x="388.2" y="325.3" width="1.9" height="1.9" fill="#b3002d"/><rect x="391.2" y="309.8" width="1.9" height="1.9" fill="#b3002d"/><rect x="387.4" y="322.3" width="1.9" height="1.9" fill="#b3002d"/><rect x="391.2" y="309.7" width="1.9" height="1.9" fill="#b3002d"/><rect x="389.8" y="338.7" width="1.9" height="1.9" fill="#b3002d"/><rect x="388.2" y="315.7" width="1.9" height="1.9" fill="#b3002d"/><rect x="388.4" y="304.1" width="1.9" height="1.9" fill="#b3002d"/><rect x="390.5" y="318.4" width="1.9" height="1.9" fill="#b3002d"/><rect x="387.9" y="307.0" width="1.9" height="1.9" fill="#b3002d"/><rect x="389.2" y="334.3" width="1.9" height="1.9" fill="#b3002d"/><rect x="388.2" y="304.1" width="1.9" height="1.9" fill="#b3002d"/><rect x="388.6" y="340.2" width="1.9" height="1.9" fill="#b3002d"/><rect x="389.2" y="351.6" width="1.9" height="1.9" fill="#b3002d"/><line x1="386.8" y1="318.9" x2="394.0" y2="318.9" stroke="#000" stroke-width="0.9"/>
<text transform="translate(386.0,399.2) rotate(-45)" font-size="6.6" font-style="italic" fill="#222" stroke="#222" stroke-width="0.12" text-anchor="middle" dy="2.3">SMAD3</text>
<line x1="399.8" y1="276.5" x2="418.3" y2="276.5" stroke="#222" stroke-width="0.9"/>
<text x="409.1" y="274.3" font-size="5.2" fill="#333" stroke="#333" stroke-width="0.1" text-anchor="middle">0.0013</text>
<circle cx="404.3" cy="301.6" r="1.0" fill="#1f3f85"/><circle cx="406.0" cy="299.3" r="1.0" fill="#1f3f85"/><circle cx="401.9" cy="303.0" r="1.0" fill="#1f3f85"/><circle cx="402.2" cy="305.4" r="1.0" fill="#1f3f85"/><circle cx="402.6" cy="309.6" r="1.0" fill="#1f3f85"/><circle cx="404.6" cy="298.3" r="1.0" fill="#1f3f85"/><circle cx="404.8" cy="305.5" r="1.0" fill="#1f3f85"/><circle cx="402.8" cy="300.5" r="1.0" fill="#1f3f85"/><circle cx="404.3" cy="314.4" r="1.0" fill="#1f3f85"/><circle cx="402.0" cy="304.2" r="1.0" fill="#1f3f85"/><circle cx="402.8" cy="309.8" r="1.0" fill="#1f3f85"/><circle cx="403.3" cy="293.8" r="1.0" fill="#1f3f85"/><circle cx="402.5" cy="299.0" r="1.0" fill="#1f3f85"/><circle cx="403.5" cy="315.4" r="1.0" fill="#1f3f85"/><circle cx="403.2" cy="306.5" r="1.0" fill="#1f3f85"/><circle cx="403.7" cy="297.6" r="1.0" fill="#1f3f85"/><circle cx="405.7" cy="305.1" r="1.0" fill="#1f3f85"/><circle cx="405.1" cy="309.1" r="1.0" fill="#1f3f85"/><circle cx="405.4" cy="305.5" r="1.0" fill="#1f3f85"/><circle cx="402.4" cy="302.1" r="1.0" fill="#1f3f85"/><circle cx="405.5" cy="300.1" r="1.0" fill="#1f3f85"/><circle cx="403.7" cy="312.7" r="1.0" fill="#1f3f85"/><circle cx="406.1" cy="302.4" r="1.0" fill="#1f3f85"/><circle cx="404.4" cy="313.2" r="1.0" fill="#1f3f85"/><circle cx="404.8" cy="296.5" r="1.0" fill="#1f3f85"/><circle cx="404.4" cy="311.2" r="1.0" fill="#1f3f85"/><circle cx="402.3" cy="295.6" r="1.0" fill="#1f3f85"/><circle cx="403.1" cy="302.4" r="1.0" fill="#1f3f85"/><circle cx="403.1" cy="291.4" r="1.0" fill="#1f3f85"/><circle cx="403.0" cy="304.9" r="1.0" fill="#1f3f85"/><circle cx="404.9" cy="291.3" r="1.0" fill="#1f3f85"/><circle cx="403.8" cy="315.5" r="1.0" fill="#1f3f85"/><line x1="400.5" y1="302.1" x2="407.7" y2="302.1" stroke="#000" stroke-width="0.9"/>
<rect x="411.8" y="306.5" width="1.9" height="1.9" fill="#b3002d"/><rect x="410.6" y="301.3" width="1.9" height="1.9" fill="#b3002d"/><rect x="410.5" y="310.4" width="1.9" height="1.9" fill="#b3002d"/><rect x="412.8" y="299.5" width="1.9" height="1.9" fill="#b3002d"/><rect x="412.5" y="308.9" width="1.9" height="1.9" fill="#b3002d"/><rect x="412.0" y="313.6" width="1.9" height="1.9" fill="#b3002d"/><rect x="412.3" y="303.4" width="1.9" height="1.9" fill="#b3002d"/><rect x="410.1" y="307.9" width="1.9" height="1.9" fill="#b3002d"/><rect x="411.8" y="310.3" width="1.9" height="1.9" fill="#b3002d"/><rect x="412.5" y="298.8" width="1.9" height="1.9" fill="#b3002d"/><rect x="410.9" y="306.0" width="1.9" height="1.9" fill="#b3002d"/><rect x="411.4" y="305.6" width="1.9" height="1.9" fill="#b3002d"/><rect x="413.6" y="314.6" width="1.9" height="1.9" fill="#b3002d"/><rect x="413.2" y="305.2" width="1.9" height="1.9" fill="#b3002d"/><rect x="410.8" y="308.1" width="1.9" height="1.9" fill="#b3002d"/><rect x="413.4" y="314.6" width="1.9" height="1.9" fill="#b3002d"/><rect x="409.8" y="305.2" width="1.9" height="1.9" fill="#b3002d"/><rect x="411.8" y="298.1" width="1.9" height="1.9" fill="#b3002d"/><rect x="413.1" y="306.6" width="1.9" height="1.9" fill="#b3002d"/><rect x="412.7" y="310.1" width="1.9" height="1.9" fill="#b3002d"/><rect x="412.1" y="313.1" width="1.9" height="1.9" fill="#b3002d"/><rect x="410.6" y="311.0" width="1.9" height="1.9" fill="#b3002d"/><rect x="412.4" y="296.1" width="1.9" height="1.9" fill="#b3002d"/><rect x="411.9" y="314.6" width="1.9" height="1.9" fill="#b3002d"/><rect x="412.1" y="333.7" width="1.9" height="1.9" fill="#b3002d"/><line x1="409.0" y1="311.2" x2="416.2" y2="311.2" stroke="#000" stroke-width="0.9"/>
<text transform="translate(407.9,399.2) rotate(-45)" font-size="6.6" font-style="italic" fill="#222" stroke="#222" stroke-width="0.12" text-anchor="middle" dy="2.3">IGF2R</text>
<line x1="422.4" y1="288.3" x2="441" y2="288.3" stroke="#222" stroke-width="0.9"/>
<text x="431.7" y="286.1" font-size="5.2" fill="#333" stroke="#333" stroke-width="0.1" text-anchor="middle">0.0088</text>
<circle cx="425.2" cy="312.4" r="1.0" fill="#1f3f85"/><circle cx="427.2" cy="318.4" r="1.0" fill="#1f3f85"/><circle cx="426.8" cy="317.4" r="1.0" fill="#1f3f85"/><circle cx="427.1" cy="316.1" r="1.0" fill="#1f3f85"/><circle cx="425.9" cy="317.9" r="1.0" fill="#1f3f85"/><circle cx="427.0" cy="321.8" r="1.0" fill="#1f3f85"/><circle cx="425.6" cy="320.9" r="1.0" fill="#1f3f85"/><circle cx="425.7" cy="314.2" r="1.0" fill="#1f3f85"/><circle cx="425.8" cy="310.3" r="1.0" fill="#1f3f85"/><circle cx="427.4" cy="299.9" r="1.0" fill="#1f3f85"/><circle cx="427.4" cy="305.9" r="1.0" fill="#1f3f85"/><circle cx="428.0" cy="314.5" r="1.0" fill="#1f3f85"/><circle cx="426.0" cy="312.9" r="1.0" fill="#1f3f85"/><circle cx="429.1" cy="307.3" r="1.0" fill="#1f3f85"/><circle cx="425.4" cy="304.8" r="1.0" fill="#1f3f85"/><circle cx="426.4" cy="311.8" r="1.0" fill="#1f3f85"/><circle cx="428.3" cy="303.1" r="1.0" fill="#1f3f85"/><circle cx="426.2" cy="320.2" r="1.0" fill="#1f3f85"/><circle cx="428.1" cy="304.1" r="1.0" fill="#1f3f85"/><circle cx="425.6" cy="306.9" r="1.0" fill="#1f3f85"/><circle cx="425.3" cy="300.7" r="1.0" fill="#1f3f85"/><circle cx="427.1" cy="304.1" r="1.0" fill="#1f3f85"/><circle cx="428.4" cy="306.1" r="1.0" fill="#1f3f85"/><circle cx="427.3" cy="320.5" r="1.0" fill="#1f3f85"/><circle cx="427.0" cy="308.9" r="1.0" fill="#1f3f85"/><circle cx="428.6" cy="311.7" r="1.0" fill="#1f3f85"/><circle cx="426.3" cy="316.0" r="1.0" fill="#1f3f85"/><circle cx="428.8" cy="312.5" r="1.0" fill="#1f3f85"/><circle cx="428.1" cy="302.9" r="1.0" fill="#1f3f85"/><circle cx="426.1" cy="319.6" r="1.0" fill="#1f3f85"/><circle cx="425.3" cy="299.2" r="1.0" fill="#1f3f85"/><circle cx="427.7" cy="324.3" r="1.0" fill="#1f3f85"/><circle cx="427.2" cy="331.1" r="1.0" fill="#1f3f85"/><circle cx="426.8" cy="350.0" r="1.0" fill="#1f3f85"/><line x1="423.2" y1="308.1" x2="430.4" y2="308.1" stroke="#000" stroke-width="0.9"/>
<rect x="433.4" y="311.3" width="1.9" height="1.9" fill="#b3002d"/><rect x="433.0" y="306.9" width="1.9" height="1.9" fill="#b3002d"/><rect x="431.8" y="314.4" width="1.9" height="1.9" fill="#b3002d"/><rect x="434.8" y="308.0" width="1.9" height="1.9" fill="#b3002d"/><rect x="432.8" y="308.0" width="1.9" height="1.9" fill="#b3002d"/><rect x="434.5" y="312.3" width="1.9" height="1.9" fill="#b3002d"/><rect x="434.1" y="319.2" width="1.9" height="1.9" fill="#b3002d"/><rect x="434.0" y="301.7" width="1.9" height="1.9" fill="#b3002d"/><rect x="435.9" y="318.2" width="1.9" height="1.9" fill="#b3002d"/><rect x="431.8" y="309.4" width="1.9" height="1.9" fill="#b3002d"/><rect x="432.4" y="318.7" width="1.9" height="1.9" fill="#b3002d"/><rect x="434.4" y="314.5" width="1.9" height="1.9" fill="#b3002d"/><rect x="431.4" y="313.2" width="1.9" height="1.9" fill="#b3002d"/><rect x="435.8" y="314.1" width="1.9" height="1.9" fill="#b3002d"/><rect x="432.6" y="328.4" width="1.9" height="1.9" fill="#b3002d"/><rect x="436.3" y="313.3" width="1.9" height="1.9" fill="#b3002d"/><rect x="434.9" y="308.2" width="1.9" height="1.9" fill="#b3002d"/><rect x="435.2" y="319.6" width="1.9" height="1.9" fill="#b3002d"/><rect x="432.5" y="321.2" width="1.9" height="1.9" fill="#b3002d"/><rect x="432.0" y="315.9" width="1.9" height="1.9" fill="#b3002d"/><rect x="435.1" y="333.1" width="1.9" height="1.9" fill="#b3002d"/><rect x="433.3" y="317.0" width="1.9" height="1.9" fill="#b3002d"/><rect x="435.4" y="300.7" width="1.9" height="1.9" fill="#b3002d"/><rect x="432.9" y="336.1" width="1.9" height="1.9" fill="#b3002d"/><rect x="433.9" y="351.4" width="1.9" height="1.9" fill="#b3002d"/><line x1="431.2" y1="314.0" x2="438.4" y2="314.0" stroke="#000" stroke-width="0.9"/>
<text transform="translate(430.3,399.2) rotate(-45)" font-size="6.6" font-style="italic" fill="#222" stroke="#222" stroke-width="0.12" text-anchor="middle" dy="2.3">LAIR1</text>
<line x1="443.6" y1="275.6" x2="461.6" y2="275.6" stroke="#222" stroke-width="0.9"/>
<text x="452.6" y="273.4" font-size="5.2" fill="#333" stroke="#333" stroke-width="0.1" text-anchor="middle">0.0069</text>
<circle cx="448.7" cy="325.0" r="1.0" fill="#1f3f85"/><circle cx="450.8" cy="321.1" r="1.0" fill="#1f3f85"/><circle cx="449.3" cy="312.5" r="1.0" fill="#1f3f85"/><circle cx="451.5" cy="319.5" r="1.0" fill="#1f3f85"/><circle cx="451.1" cy="306.3" r="1.0" fill="#1f3f85"/><circle cx="451.3" cy="304.3" r="1.0" fill="#1f3f85"/><circle cx="450.6" cy="308.1" r="1.0" fill="#1f3f85"/><circle cx="448.9" cy="318.4" r="1.0" fill="#1f3f85"/><circle cx="451.7" cy="316.6" r="1.0" fill="#1f3f85"/><circle cx="449.3" cy="323.7" r="1.0" fill="#1f3f85"/><circle cx="450.7" cy="315.3" r="1.0" fill="#1f3f85"/><circle cx="450.3" cy="311.7" r="1.0" fill="#1f3f85"/><circle cx="451.0" cy="308.2" r="1.0" fill="#1f3f85"/><circle cx="449.9" cy="308.7" r="1.0" fill="#1f3f85"/><circle cx="448.6" cy="324.5" r="1.0" fill="#1f3f85"/><circle cx="449.6" cy="310.1" r="1.0" fill="#1f3f85"/><circle cx="449.0" cy="318.8" r="1.0" fill="#1f3f85"/><circle cx="451.5" cy="308.4" r="1.0" fill="#1f3f85"/><circle cx="449.2" cy="304.2" r="1.0" fill="#1f3f85"/><circle cx="448.7" cy="315.4" r="1.0" fill="#1f3f85"/><circle cx="447.6" cy="312.4" r="1.0" fill="#1f3f85"/><circle cx="449.0" cy="314.8" r="1.0" fill="#1f3f85"/><circle cx="451.5" cy="313.7" r="1.0" fill="#1f3f85"/><circle cx="449.3" cy="318.7" r="1.0" fill="#1f3f85"/><circle cx="450.7" cy="304.7" r="1.0" fill="#1f3f85"/><circle cx="448.8" cy="317.1" r="1.0" fill="#1f3f85"/><circle cx="449.8" cy="315.9" r="1.0" fill="#1f3f85"/><circle cx="450.8" cy="312.1" r="1.0" fill="#1f3f85"/><circle cx="451.2" cy="308.4" r="1.0" fill="#1f3f85"/><circle cx="448.5" cy="317.2" r="1.0" fill="#1f3f85"/><circle cx="449.7" cy="302.2" r="1.0" fill="#1f3f85"/><circle cx="449.8" cy="325.8" r="1.0" fill="#1f3f85"/><line x1="446.2" y1="312.5" x2="453.4" y2="312.5" stroke="#000" stroke-width="0.9"/>
<rect x="457.5" y="304.2" width="1.9" height="1.9" fill="#b3002d"/><rect x="454.9" y="326.6" width="1.9" height="1.9" fill="#b3002d"/><rect x="454.4" y="322.4" width="1.9" height="1.9" fill="#b3002d"/><rect x="455.5" y="314.2" width="1.9" height="1.9" fill="#b3002d"/><rect x="456.6" y="316.9" width="1.9" height="1.9" fill="#b3002d"/><rect x="456.5" y="312.5" width="1.9" height="1.9" fill="#b3002d"/><rect x="454.5" y="321.0" width="1.9" height="1.9" fill="#b3002d"/><rect x="455.0" y="304.8" width="1.9" height="1.9" fill="#b3002d"/><rect x="458.1" y="319.7" width="1.9" height="1.9" fill="#b3002d"/><rect x="457.2" y="306.3" width="1.9" height="1.9" fill="#b3002d"/><rect x="455.5" y="304.2" width="1.9" height="1.9" fill="#b3002d"/><rect x="454.7" y="319.4" width="1.9" height="1.9" fill="#b3002d"/><rect x="456.8" y="308.1" width="1.9" height="1.9" fill="#b3002d"/><rect x="455.3" y="315.7" width="1.9" height="1.9" fill="#b3002d"/><rect x="455.7" y="309.5" width="1.9" height="1.9" fill="#b3002d"/><rect x="454.6" y="308.2" width="1.9" height="1.9" fill="#b3002d"/><rect x="458.5" y="317.4" width="1.9" height="1.9" fill="#b3002d"/><rect x="456.7" y="318.6" width="1.9" height="1.9" fill="#b3002d"/><rect x="454.4" y="323.7" width="1.9" height="1.9" fill="#b3002d"/><rect x="454.6" y="322.7" width="1.9" height="1.9" fill="#b3002d"/><rect x="457.9" y="321.0" width="1.9" height="1.9" fill="#b3002d"/><rect x="457.0" y="318.0" width="1.9" height="1.9" fill="#b3002d"/><rect x="455.6" y="304.2" width="1.9" height="1.9" fill="#b3002d"/><rect x="456.5" y="329.2" width="1.9" height="1.9" fill="#b3002d"/><rect x="455.9" y="344.9" width="1.9" height="1.9" fill="#b3002d"/><rect x="455.8" y="367.7" width="1.9" height="1.9" fill="#b3002d"/><rect x="456.6" y="372.1" width="1.9" height="1.9" fill="#b3002d"/><line x1="453.6" y1="317.8" x2="460.8" y2="317.8" stroke="#000" stroke-width="0.9"/>
<text transform="translate(453.0,399.2) rotate(-45)" font-size="6.6" font-style="italic" fill="#222" stroke="#222" stroke-width="0.12" text-anchor="middle" dy="2.3">BTLA4</text>
<line x1="465.7" y1="266.2" x2="484.9" y2="266.2" stroke="#222" stroke-width="0.9"/>
<text x="475.3" y="264.0" font-size="5.2" fill="#333" stroke="#333" stroke-width="0.1" text-anchor="middle">0.0004</text>
<circle cx="469.6" cy="278.9" r="1.0" fill="#1f3f85"/><circle cx="470.9" cy="283.7" r="1.0" fill="#1f3f85"/><circle cx="471.8" cy="312.0" r="1.0" fill="#1f3f85"/><circle cx="471.5" cy="308.2" r="1.0" fill="#1f3f85"/><circle cx="472.2" cy="290.2" r="1.0" fill="#1f3f85"/><circle cx="472.4" cy="289.7" r="1.0" fill="#1f3f85"/><circle cx="470.7" cy="276.5" r="1.0" fill="#1f3f85"/><circle cx="472.2" cy="300.9" r="1.0" fill="#1f3f85"/><circle cx="472.7" cy="304.1" r="1.0" fill="#1f3f85"/><circle cx="472.8" cy="283.0" r="1.0" fill="#1f3f85"/><circle cx="473.0" cy="281.3" r="1.0" fill="#1f3f85"/><circle cx="470.6" cy="302.9" r="1.0" fill="#1f3f85"/><circle cx="472.7" cy="283.8" r="1.0" fill="#1f3f85"/><circle cx="471.2" cy="274.3" r="1.0" fill="#1f3f85"/><circle cx="470.1" cy="274.2" r="1.0" fill="#1f3f85"/><circle cx="470.4" cy="278.1" r="1.0" fill="#1f3f85"/><circle cx="470.9" cy="273.4" r="1.0" fill="#1f3f85"/><circle cx="472.9" cy="288.9" r="1.0" fill="#1f3f85"/><circle cx="470.2" cy="308.6" r="1.0" fill="#1f3f85"/><circle cx="470.5" cy="298.6" r="1.0" fill="#1f3f85"/><circle cx="471.6" cy="293.8" r="1.0" fill="#1f3f85"/><circle cx="471.4" cy="301.4" r="1.0" fill="#1f3f85"/><circle cx="469.4" cy="287.0" r="1.0" fill="#1f3f85"/><circle cx="469.5" cy="286.2" r="1.0" fill="#1f3f85"/><circle cx="473.2" cy="282.4" r="1.0" fill="#1f3f85"/><circle cx="472.5" cy="316.8" r="1.0" fill="#1f3f85"/><circle cx="472.4" cy="274.4" r="1.0" fill="#1f3f85"/><circle cx="470.4" cy="284.4" r="1.0" fill="#1f3f85"/><circle cx="472.4" cy="307.6" r="1.0" fill="#1f3f85"/><circle cx="472.6" cy="287.6" r="1.0" fill="#1f3f85"/><circle cx="471.3" cy="269.7" r="1.0" fill="#1f3f85"/><circle cx="471.2" cy="318.4" r="1.0" fill="#1f3f85"/><line x1="468.0" y1="286.9" x2="475.2" y2="286.9" stroke="#000" stroke-width="0.9"/>
<rect x="477.0" y="301.1" width="1.9" height="1.9" fill="#b3002d"/><rect x="477.5" y="320.2" width="1.9" height="1.9" fill="#b3002d"/><rect x="480.0" y="304.4" width="1.9" height="1.9" fill="#b3002d"/><rect x="479.6" y="292.1" width="1.9" height="1.9" fill="#b3002d"/><rect x="479.7" y="295.2" width="1.9" height="1.9" fill="#b3002d"/><rect x="477.3" y="303.7" width="1.9" height="1.9" fill="#b3002d"/><rect x="477.3" y="311.2" width="1.9" height="1.9" fill="#b3002d"/><rect x="479.4" y="298.3" width="1.9" height="1.9" fill="#b3002d"/><rect x="479.3" y="306.5" width="1.9" height="1.9" fill="#b3002d"/><rect x="478.3" y="295.2" width="1.9" height="1.9" fill="#b3002d"/><rect x="479.4" y="313.2" width="1.9" height="1.9" fill="#b3002d"/><rect x="476.3" y="305.5" width="1.9" height="1.9" fill="#b3002d"/><rect x="478.1" y="318.5" width="1.9" height="1.9" fill="#b3002d"/><rect x="476.5" y="298.8" width="1.9" height="1.9" fill="#b3002d"/><rect x="478.3" y="293.2" width="1.9" height="1.9" fill="#b3002d"/><rect x="476.4" y="291.6" width="1.9" height="1.9" fill="#b3002d"/><rect x="477.1" y="299.6" width="1.9" height="1.9" fill="#b3002d"/><rect x="478.7" y="300.1" width="1.9" height="1.9" fill="#b3002d"/><rect x="478.2" y="300.2" width="1.9" height="1.9" fill="#b3002d"/><rect x="480.3" y="305.4" width="1.9" height="1.9" fill="#b3002d"/><rect x="478.8" y="309.3" width="1.9" height="1.9" fill="#b3002d"/><rect x="478.6" y="306.9" width="1.9" height="1.9" fill="#b3002d"/><rect x="478.7" y="283.6" width="1.9" height="1.9" fill="#b3002d"/><rect x="479.2" y="321.4" width="1.9" height="1.9" fill="#b3002d"/><rect x="478.4" y="367.7" width="1.9" height="1.9" fill="#b3002d"/><line x1="475.4" y1="302.2" x2="482.6" y2="302.2" stroke="#000" stroke-width="0.9"/>
<text transform="translate(474.8,399.2) rotate(-45)" font-size="6.6" font-style="italic" fill="#222" stroke="#222" stroke-width="0.12" text-anchor="middle" dy="2.3">KLRG1</text>
<line x1="488.2" y1="259.4" x2="505.9" y2="259.4" stroke="#222" stroke-width="0.9"/>
<text x="497.0" y="257.2" font-size="5.2" fill="#333" stroke="#333" stroke-width="0.1" text-anchor="middle">0.0008</text>
<circle cx="496.0" cy="277.5" r="1.0" fill="#1f3f85"/><circle cx="494.5" cy="286.8" r="1.0" fill="#1f3f85"/><circle cx="495.7" cy="281.4" r="1.0" fill="#1f3f85"/><circle cx="494.8" cy="286.8" r="1.0" fill="#1f3f85"/><circle cx="493.0" cy="277.3" r="1.0" fill="#1f3f85"/><circle cx="494.7" cy="271.2" r="1.0" fill="#1f3f85"/><circle cx="495.5" cy="284.7" r="1.0" fill="#1f3f85"/><circle cx="492.0" cy="278.2" r="1.0" fill="#1f3f85"/><circle cx="493.2" cy="276.1" r="1.0" fill="#1f3f85"/><circle cx="492.9" cy="283.6" r="1.0" fill="#1f3f85"/><circle cx="492.9" cy="272.2" r="1.0" fill="#1f3f85"/><circle cx="495.0" cy="285.7" r="1.0" fill="#1f3f85"/><circle cx="492.9" cy="270.7" r="1.0" fill="#1f3f85"/><circle cx="495.6" cy="274.2" r="1.0" fill="#1f3f85"/><circle cx="493.7" cy="271.9" r="1.0" fill="#1f3f85"/><circle cx="494.8" cy="287.3" r="1.0" fill="#1f3f85"/><circle cx="492.2" cy="277.3" r="1.0" fill="#1f3f85"/><circle cx="494.3" cy="279.7" r="1.0" fill="#1f3f85"/><circle cx="493.8" cy="284.5" r="1.0" fill="#1f3f85"/><circle cx="492.2" cy="282.3" r="1.0" fill="#1f3f85"/><circle cx="494.3" cy="276.2" r="1.0" fill="#1f3f85"/><circle cx="496.2" cy="279.9" r="1.0" fill="#1f3f85"/><circle cx="493.0" cy="281.8" r="1.0" fill="#1f3f85"/><circle cx="495.8" cy="276.9" r="1.0" fill="#1f3f85"/><circle cx="495.0" cy="280.2" r="1.0" fill="#1f3f85"/><circle cx="493.2" cy="284.2" r="1.0" fill="#1f3f85"/><circle cx="495.3" cy="285.2" r="1.0" fill="#1f3f85"/><circle cx="492.6" cy="278.1" r="1.0" fill="#1f3f85"/><circle cx="493.1" cy="282.7" r="1.0" fill="#1f3f85"/><circle cx="494.6" cy="277.2" r="1.0" fill="#1f3f85"/><circle cx="494.1" cy="268.3" r="1.0" fill="#1f3f85"/><circle cx="494.1" cy="287.4" r="1.0" fill="#1f3f85"/><line x1="490.4" y1="278.0" x2="497.6" y2="278.0" stroke="#000" stroke-width="0.9"/>
<rect x="500.0" y="294.1" width="1.9" height="1.9" fill="#b3002d"/><rect x="502.0" y="292.0" width="1.9" height="1.9" fill="#b3002d"/><rect x="501.0" y="276.3" width="1.9" height="1.9" fill="#b3002d"/><rect x="502.4" y="273.7" width="1.9" height="1.9" fill="#b3002d"/><rect x="499.4" y="281.9" width="1.9" height="1.9" fill="#b3002d"/><rect x="500.8" y="292.6" width="1.9" height="1.9" fill="#b3002d"/><rect x="501.0" y="278.0" width="1.9" height="1.9" fill="#b3002d"/><rect x="501.1" y="286.7" width="1.9" height="1.9" fill="#b3002d"/><rect x="499.2" y="284.5" width="1.9" height="1.9" fill="#b3002d"/><rect x="498.9" y="280.5" width="1.9" height="1.9" fill="#b3002d"/><rect x="499.7" y="279.4" width="1.9" height="1.9" fill="#b3002d"/><rect x="501.9" y="289.5" width="1.9" height="1.9" fill="#b3002d"/><rect x="503.3" y="282.3" width="1.9" height="1.9" fill="#b3002d"/><rect x="498.9" y="283.8" width="1.9" height="1.9" fill="#b3002d"/><rect x="501.3" y="294.7" width="1.9" height="1.9" fill="#b3002d"/><rect x="501.2" y="293.6" width="1.9" height="1.9" fill="#b3002d"/><rect x="501.7" y="281.9" width="1.9" height="1.9" fill="#b3002d"/><rect x="501.6" y="289.0" width="1.9" height="1.9" fill="#b3002d"/><rect x="502.0" y="284.0" width="1.9" height="1.9" fill="#b3002d"/><rect x="502.3" y="290.1" width="1.9" height="1.9" fill="#b3002d"/><rect x="501.4" y="290.6" width="1.9" height="1.9" fill="#b3002d"/><rect x="500.8" y="285.7" width="1.9" height="1.9" fill="#b3002d"/><rect x="501.3" y="273.2" width="1.9" height="1.9" fill="#b3002d"/><rect x="501.4" y="294.8" width="1.9" height="1.9" fill="#b3002d"/><line x1="498.4" y1="283.0" x2="505.6" y2="283.0" stroke="#000" stroke-width="0.9"/>
<text transform="translate(497.5,399.2) rotate(-45)" font-size="6.6" font-style="italic" fill="#222" stroke="#222" stroke-width="0.12" text-anchor="middle" dy="2.3">IL10RA</text>
<text transform="translate(323.3,321.4) rotate(-90)" font-size="8.2" fill="#222" stroke="#222" stroke-width="0.25" text-anchor="middle" textLength="16.6" lengthAdjust="spacingAndGlyphs">Counts</text>
<rect x="37.3" y="260.8" width="264.2" height="126.2" fill="none" stroke="#111" stroke-width="1.1"/>
<text x="168.5" y="256.6" font-size="8.3" fill="#111" text-anchor="middle">CD8 GVHD vs No GVHD</text>
<line x1="34.6" y1="281.9" x2="37.3" y2="281.9" stroke="#111" stroke-width="0.8"/>
<text x="31.6" y="284.0" font-size="6.1" fill="#222" stroke="#222" stroke-width="0.12" text-anchor="end">0.5</text>
<line x1="34.6" y1="310.9" x2="37.3" y2="310.9" stroke="#111" stroke-width="0.8"/>
<text x="31.6" y="313.0" font-size="6.1" fill="#222" stroke="#222" stroke-width="0.12" text-anchor="end">0.0</text>
<line x1="34.6" y1="339.9" x2="37.3" y2="339.9" stroke="#111" stroke-width="0.8"/>
<text x="31.6" y="342.0" font-size="6.1" fill="#222" stroke="#222" stroke-width="0.12" text-anchor="end">−0.5</text>
<line x1="34.6" y1="368.9" x2="37.3" y2="368.9" stroke="#111" stroke-width="0.8"/>
<text x="31.6" y="371.0" font-size="6.1" fill="#222" stroke="#222" stroke-width="0.12" text-anchor="end">−1.0</text>
<text transform="translate(13.9,324.1) rotate(-90)" font-size="6.3" fill="#222" stroke="#222" stroke-width="0.15" text-anchor="middle" textLength="40" lengthAdjust="spacingAndGlyphs">Pathway activity</text>
<line x1="37.5" y1="310.9" x2="301.5" y2="310.9" stroke="#111" stroke-width="1" stroke-dasharray="1.7,1.5"/>
<rect x="241.2" y="261" width="5.6" height="4.4" fill="#58ac48"/>
<rect x="246.2" y="261" width="5.6" height="4.4" fill="#44a046"/>
<rect x="251.2" y="261" width="5.6" height="4.4" fill="#35963f"/>
<rect x="256.2" y="261" width="5.6" height="4.4" fill="#237a30"/>
<rect x="261.2" y="261" width="5.6" height="4.4" fill="#14441b"/>
<rect x="266.2" y="261" width="5.6" height="4.4" fill="#0b1d0c"/>
<rect x="271.2" y="261" width="5.6" height="4.4" fill="#050505"/>
<rect x="276.2" y="261" width="5.6" height="4.4" fill="#120505"/>
<rect x="281.2" y="261" width="5.6" height="4.4" fill="#340909"/>
<rect x="286.2" y="261" width="5.6" height="4.4" fill="#6c0c12"/>
<rect x="291.2" y="261" width="5.6" height="4.4" fill="#b21619"/>
<rect x="296.2" y="261" width="4.8" height="4.4" fill="#e22020"/>
<text transform="translate(244.0,268.3) rotate(90)" font-size="4" fill="#333">&lt;0.001</text>
<text transform="translate(249.1,268.3) rotate(90)" font-size="4" fill="#333">&lt;0.005</text>
<text transform="translate(254.2,268.3) rotate(90)" font-size="4" fill="#333">&lt;0.01</text>
<text transform="translate(259.2,268.3) rotate(90)" font-size="4" fill="#333">&lt;0.05</text>
<text transform="translate(264.3,268.3) rotate(90)" font-size="4" fill="#333">&lt;0.1</text>
<text transform="translate(269.4,268.3) rotate(90)" font-size="4" fill="#333">1</text>
<text transform="translate(274.5,268.3) rotate(90)" font-size="4" fill="#333">0.1</text>
<text transform="translate(279.6,268.3) rotate(90)" font-size="4" fill="#333">0.05</text>
<text transform="translate(284.6,268.3) rotate(90)" font-size="4" fill="#333">0.01</text>
<text transform="translate(289.7,268.3) rotate(90)" font-size="4" fill="#333">0.005</text>
<text transform="translate(294.8,268.3) rotate(90)" font-size="4" fill="#333">0.001</text>
<line x1="46.8" y1="265.3" x2="46.8" y2="303.5" stroke="#a85050" stroke-width="0.85"/>
<line x1="44.6" y1="265.3" x2="49.0" y2="265.3" stroke="#a85050" stroke-width="0.85"/>
<line x1="44.6" y1="303.5" x2="49.0" y2="303.5" stroke="#a85050" stroke-width="0.85"/>
<circle cx="46.8" cy="284.5" r="1.3" fill="#ddd" stroke="#1a1a1a" stroke-width="0.8"/>
<line x1="46.8" y1="387" x2="46.8" y2="389.6" stroke="#111" stroke-width="0.7"/>
<text transform="translate(49.8,394.8) rotate(-60) scale(0.82,1)" font-size="4.6" fill="#222" text-anchor="end">NFKB_TFs</text>
<line x1="51.6" y1="274.4" x2="51.6" y2="319.2" stroke="#6a6a6a" stroke-width="0.85"/>
<line x1="49.4" y1="274.4" x2="53.8" y2="274.4" stroke="#6a6a6a" stroke-width="0.85"/>
<line x1="49.4" y1="319.2" x2="53.8" y2="319.2" stroke="#6a6a6a" stroke-width="0.85"/>
<circle cx="51.6" cy="296.8" r="1.3" fill="#ddd" stroke="#1a1a1a" stroke-width="0.8"/>
<line x1="51.6" y1="387" x2="51.6" y2="389.6" stroke="#111" stroke-width="0.7"/>
<text transform="translate(54.6,394.8) rotate(-60) scale(0.82,1)" font-size="4.6" fill="#222" text-anchor="end">NFKB_Negative_regulators</text>
<line x1="56.5" y1="280.5" x2="56.5" y2="320.8" stroke="#6a6a6a" stroke-width="0.85"/>
<line x1="54.3" y1="280.5" x2="58.7" y2="280.5" stroke="#6a6a6a" stroke-width="0.85"/>
<line x1="54.3" y1="320.8" x2="58.7" y2="320.8" stroke="#6a6a6a" stroke-width="0.85"/>
<circle cx="56.5" cy="300.7" r="1.3" fill="#ddd" stroke="#1a1a1a" stroke-width="0.8"/>
<line x1="56.5" y1="387" x2="56.5" y2="389.6" stroke="#111" stroke-width="0.7"/>
<text transform="translate(59.5,394.8) rotate(-60) scale(0.82,1)" font-size="4.6" fill="#222" text-anchor="end">WNT_signaling</text>
<line x1="61.4" y1="284.5" x2="61.4" y2="317.5" stroke="#6a6a6a" stroke-width="0.85"/>
<line x1="59.2" y1="284.5" x2="63.6" y2="284.5" stroke="#6a6a6a" stroke-width="0.85"/>
<line x1="59.2" y1="317.5" x2="63.6" y2="317.5" stroke="#6a6a6a" stroke-width="0.85"/>
<circle cx="61.4" cy="301.2" r="1.3" fill="#ddd" stroke="#1a1a1a" stroke-width="0.8"/>
<line x1="61.4" y1="387" x2="61.4" y2="389.6" stroke="#111" stroke-width="0.7"/>
<text transform="translate(64.4,394.8) rotate(-60) scale(0.82,1)" font-size="4.6" fill="#222" text-anchor="end">Wnt</text>
<line x1="66.4" y1="288.4" x2="66.4" y2="321.3" stroke="#6a6a6a" stroke-width="0.85"/>
<line x1="64.2" y1="288.4" x2="68.6" y2="288.4" stroke="#6a6a6a" stroke-width="0.85"/>
<line x1="64.2" y1="321.3" x2="68.6" y2="321.3" stroke="#6a6a6a" stroke-width="0.85"/>
<circle cx="66.4" cy="305.2" r="1.3" fill="#ddd" stroke="#1a1a1a" stroke-width="0.8"/>
<line x1="66.4" y1="387" x2="66.4" y2="389.6" stroke="#111" stroke-width="0.7"/>
<text transform="translate(69.4,394.8) rotate(-60) scale(0.82,1)" font-size="4.6" fill="#222" text-anchor="end">Proliferation</text>
<line x1="71.2" y1="291.5" x2="71.2" y2="328" stroke="#6a6a6a" stroke-width="0.85"/>
<line x1="69.0" y1="291.5" x2="73.4" y2="291.5" stroke="#6a6a6a" stroke-width="0.85"/>
<line x1="69.0" y1="328" x2="73.4" y2="328" stroke="#6a6a6a" stroke-width="0.85"/>
<circle cx="71.2" cy="309.9" r="1.3" fill="#ddd" stroke="#1a1a1a" stroke-width="0.8"/>
<line x1="71.2" y1="387" x2="71.2" y2="389.6" stroke="#111" stroke-width="0.7"/>
<text transform="translate(74.2,394.8) rotate(-60) scale(0.82,1)" font-size="4.6" fill="#222" text-anchor="end">IL2_signaling</text>
<line x1="76.1" y1="298.2" x2="76.1" y2="323.1" stroke="#6a6a6a" stroke-width="0.85"/>
<line x1="73.9" y1="298.2" x2="78.3" y2="298.2" stroke="#6a6a6a" stroke-width="0.85"/>
<line x1="73.9" y1="323.1" x2="78.3" y2="323.1" stroke="#6a6a6a" stroke-width="0.85"/>
<circle cx="76.1" cy="310.8" r="1.3" fill="#ddd" stroke="#1a1a1a" stroke-width="0.8"/>
<line x1="76.1" y1="387" x2="76.1" y2="389.6" stroke="#111" stroke-width="0.7"/>
<text transform="translate(79.1,394.8) rotate(-60) scale(0.82,1)" font-size="4.6" fill="#222" text-anchor="end">TNF_family</text>
<line x1="80.9" y1="302.9" x2="80.9" y2="324" stroke="#6a6a6a" stroke-width="0.85"/>
<line x1="78.7" y1="302.9" x2="83.1" y2="302.9" stroke="#6a6a6a" stroke-width="0.85"/>
<line x1="78.7" y1="324" x2="83.1" y2="324" stroke="#6a6a6a" stroke-width="0.85"/>
<circle cx="80.9" cy="313.4" r="1.3" fill="#ddd" stroke="#1a1a1a" stroke-width="0.8"/>
<line x1="80.9" y1="387" x2="80.9" y2="389.6" stroke="#111" stroke-width="0.7"/>
<text transform="translate(83.9,394.8) rotate(-60) scale(0.82,1)" font-size="4.6" fill="#222" text-anchor="end">Apoptosis</text>
<line x1="85.8" y1="295.9" x2="85.8" y2="333.1" stroke="#6a6a6a" stroke-width="0.85"/>
<line x1="83.6" y1="295.9" x2="88.0" y2="295.9" stroke="#6a6a6a" stroke-width="0.85"/>
<line x1="83.6" y1="333.1" x2="88.0" y2="333.1" stroke="#6a6a6a" stroke-width="0.85"/>
<circle cx="85.8" cy="314.3" r="1.3" fill="#ddd" stroke="#1a1a1a" stroke-width="0.8"/>
<line x1="85.8" y1="387" x2="85.8" y2="389.6" stroke="#111" stroke-width="0.7"/>
<text transform="translate(88.8,394.8) rotate(-60) scale(0.82,1)" font-size="4.6" fill="#222" text-anchor="end">JAK_STAT_Signaling</text>
<line x1="90.7" y1="299.4" x2="90.7" y2="331" stroke="#6a6a6a" stroke-width="0.85"/>
<line x1="88.5" y1="299.4" x2="92.9" y2="299.4" stroke="#6a6a6a" stroke-width="0.85"/>
<line x1="88.5" y1="331" x2="92.9" y2="331" stroke="#6a6a6a" stroke-width="0.85"/>
<circle cx="90.7" cy="315.2" r="1.3" fill="#ddd" stroke="#1a1a1a" stroke-width="0.8"/>
<line x1="90.7" y1="387" x2="90.7" y2="389.6" stroke="#111" stroke-width="0.7"/>
<text transform="translate(93.7,394.8) rotate(-60) scale(0.82,1)" font-size="4.6" fill="#222" text-anchor="end">Exhaustion_Inhib</text>
<line x1="95.7" y1="300.3" x2="95.7" y2="331" stroke="#6a6a6a" stroke-width="0.85"/>
<line x1="93.5" y1="300.3" x2="97.9" y2="300.3" stroke="#6a6a6a" stroke-width="0.85"/>
<line x1="93.5" y1="331" x2="97.9" y2="331" stroke="#6a6a6a" stroke-width="0.85"/>
<circle cx="95.7" cy="315.7" r="1.3" fill="#ddd" stroke="#1a1a1a" stroke-width="0.8"/>
<line x1="95.7" y1="387" x2="95.7" y2="389.6" stroke="#111" stroke-width="0.7"/>
<text transform="translate(98.7,394.8) rotate(-60) scale(0.82,1)" font-size="4.6" fill="#222" text-anchor="end">Cell_Cycle_and_Ab_Regulation</text>
<line x1="100.5" y1="300.6" x2="100.5" y2="331.2" stroke="#6a6a6a" stroke-width="0.85"/>
<line x1="98.3" y1="300.6" x2="102.7" y2="300.6" stroke="#6a6a6a" stroke-width="0.85"/>
<line x1="98.3" y1="331.2" x2="102.7" y2="331.2" stroke="#6a6a6a" stroke-width="0.85"/>
<circle cx="100.5" cy="315.9" r="1.3" fill="#ddd" stroke="#1a1a1a" stroke-width="0.8"/>
<line x1="100.5" y1="387" x2="100.5" y2="389.6" stroke="#111" stroke-width="0.7"/>
<text transform="translate(103.5,394.8) rotate(-60) scale(0.82,1)" font-size="4.6" fill="#222" text-anchor="end">TNF_signaling</text>
<line x1="105.6" y1="304.5" x2="105.6" y2="333.3" stroke="#6a6a6a" stroke-width="0.85"/>
<line x1="103.4" y1="304.5" x2="107.8" y2="304.5" stroke="#6a6a6a" stroke-width="0.85"/>
<line x1="103.4" y1="333.3" x2="107.8" y2="333.3" stroke="#6a6a6a" stroke-width="0.85"/>
<circle cx="105.6" cy="318.9" r="1.3" fill="#ddd" stroke="#1a1a1a" stroke-width="0.8"/>
<line x1="105.6" y1="387" x2="105.6" y2="389.6" stroke="#111" stroke-width="0.7"/>
<text transform="translate(108.6,394.8) rotate(-60) scale(0.82,1)" font-size="4.6" fill="#222" text-anchor="end">Homeostatic_Prolif</text>
<line x1="110.4" y1="304.5" x2="110.4" y2="334.3" stroke="#6a6a6a" stroke-width="0.85"/>
<line x1="108.2" y1="304.5" x2="112.6" y2="304.5" stroke="#6a6a6a" stroke-width="0.85"/>
<line x1="108.2" y1="334.3" x2="112.6" y2="334.3" stroke="#6a6a6a" stroke-width="0.85"/>
<circle cx="110.4" cy="318.9" r="1.3" fill="#ddd" stroke="#1a1a1a" stroke-width="0.8"/>
<line x1="110.4" y1="387" x2="110.4" y2="389.6" stroke="#111" stroke-width="0.7"/>
<text transform="translate(113.4,394.8) rotate(-60) scale(0.82,1)" font-size="4.6" fill="#222" text-anchor="end">Energy_Metab</text>
<line x1="115.3" y1="302.1" x2="115.3" y2="336.4" stroke="#6a6a6a" stroke-width="0.85"/>
<line x1="113.1" y1="302.1" x2="117.5" y2="302.1" stroke="#6a6a6a" stroke-width="0.85"/>
<line x1="113.1" y1="336.4" x2="117.5" y2="336.4" stroke="#6a6a6a" stroke-width="0.85"/>
<circle cx="115.3" cy="319.5" r="1.3" fill="#ddd" stroke="#1a1a1a" stroke-width="0.8"/>
<line x1="115.3" y1="387" x2="115.3" y2="389.6" stroke="#111" stroke-width="0.7"/>
<text transform="translate(118.3,394.8) rotate(-60) scale(0.82,1)" font-size="4.6" fill="#222" text-anchor="end">NFKB_Target_genes</text>
<line x1="120.3" y1="306.7" x2="120.3" y2="336.4" stroke="#6a6a6a" stroke-width="0.85"/>
<line x1="118.1" y1="306.7" x2="122.5" y2="306.7" stroke="#6a6a6a" stroke-width="0.85"/>
<line x1="118.1" y1="336.4" x2="122.5" y2="336.4" stroke="#6a6a6a" stroke-width="0.85"/>
<circle cx="120.3" cy="321.1" r="1.3" fill="#ddd" stroke="#1a1a1a" stroke-width="0.8"/>
<line x1="120.3" y1="387" x2="120.3" y2="389.6" stroke="#111" stroke-width="0.7"/>
<text transform="translate(123.3,394.8) rotate(-60) scale(0.82,1)" font-size="4.6" fill="#222" text-anchor="end">Nutrient_Metabolism</text>
<line x1="125.1" y1="304.5" x2="125.1" y2="337.3" stroke="#6a6a6a" stroke-width="0.85"/>
<line x1="122.9" y1="304.5" x2="127.3" y2="304.5" stroke="#6a6a6a" stroke-width="0.85"/>
<line x1="122.9" y1="337.3" x2="127.3" y2="337.3" stroke="#6a6a6a" stroke-width="0.85"/>
<circle cx="125.1" cy="322" r="1.3" fill="#ddd" stroke="#1a1a1a" stroke-width="0.8"/>
<line x1="125.1" y1="387" x2="125.1" y2="389.6" stroke="#111" stroke-width="0.7"/>
<text transform="translate(128.1,394.8) rotate(-60) scale(0.82,1)" font-size="4.6" fill="#222" text-anchor="end">Self_Renewal</text>
<line x1="130" y1="308.2" x2="130" y2="337.9" stroke="#6a6a6a" stroke-width="0.85"/>
<line x1="127.8" y1="308.2" x2="132.2" y2="308.2" stroke="#6a6a6a" stroke-width="0.85"/>
<line x1="127.8" y1="337.9" x2="132.2" y2="337.9" stroke="#6a6a6a" stroke-width="0.85"/>
<circle cx="130" cy="322.9" r="1.3" fill="#ddd" stroke="#1a1a1a" stroke-width="0.8"/>
<line x1="130" y1="387" x2="130" y2="389.6" stroke="#111" stroke-width="0.7"/>
<text transform="translate(133.0,394.8) rotate(-60) scale(0.82,1)" font-size="4.6" fill="#222" text-anchor="end">IFN_Induced_genes</text>
<line x1="134.9" y1="309.7" x2="134.9" y2="337.3" stroke="#6a6a6a" stroke-width="0.85"/>
<line x1="132.7" y1="309.7" x2="137.1" y2="309.7" stroke="#6a6a6a" stroke-width="0.85"/>
<line x1="132.7" y1="337.3" x2="137.1" y2="337.3" stroke="#6a6a6a" stroke-width="0.85"/>
<circle cx="134.9" cy="322.9" r="1.3" fill="#ddd" stroke="#1a1a1a" stroke-width="0.8"/>
<line x1="134.9" y1="387" x2="134.9" y2="389.6" stroke="#111" stroke-width="0.7"/>
<text transform="translate(137.9,394.8) rotate(-60) scale(0.82,1)" font-size="4.6" fill="#222" text-anchor="end">Th2_polar</text>
<line x1="139.7" y1="305.1" x2="139.7" y2="341.3" stroke="#6a6a6a" stroke-width="0.85"/>
<line x1="137.5" y1="305.1" x2="141.9" y2="305.1" stroke="#6a6a6a" stroke-width="0.85"/>
<line x1="137.5" y1="341.3" x2="141.9" y2="341.3" stroke="#6a6a6a" stroke-width="0.85"/>
<circle cx="139.7" cy="323.5" r="1.3" fill="#ddd" stroke="#1a1a1a" stroke-width="0.8"/>
<line x1="139.7" y1="387" x2="139.7" y2="389.6" stroke="#111" stroke-width="0.7"/>
<text transform="translate(142.7,394.8) rotate(-60) scale(0.82,1)" font-size="4.6" fill="#222" text-anchor="end">Autophagy</text>
<line x1="144.7" y1="309.7" x2="144.7" y2="338.8" stroke="#6a6a6a" stroke-width="0.85"/>
<line x1="142.5" y1="309.7" x2="146.9" y2="309.7" stroke="#6a6a6a" stroke-width="0.85"/>
<line x1="142.5" y1="338.8" x2="146.9" y2="338.8" stroke="#6a6a6a" stroke-width="0.85"/>
<circle cx="144.7" cy="324.1" r="1.3" fill="#ddd" stroke="#1a1a1a" stroke-width="0.8"/>
<line x1="144.7" y1="387" x2="144.7" y2="389.6" stroke="#111" stroke-width="0.7"/>
<text transform="translate(147.7,394.8) rotate(-60) scale(0.82,1)" font-size="4.6" fill="#222" text-anchor="end">Costimulatory</text>
<line x1="149.6" y1="308.8" x2="149.6" y2="341.9" stroke="#6a6a6a" stroke-width="0.85"/>
<line x1="147.4" y1="308.8" x2="151.8" y2="308.8" stroke="#6a6a6a" stroke-width="0.85"/>
<line x1="147.4" y1="341.9" x2="151.8" y2="341.9" stroke="#6a6a6a" stroke-width="0.85"/>
<circle cx="149.6" cy="325.1" r="1.3" fill="#ddd" stroke="#1a1a1a" stroke-width="0.8"/>
<line x1="149.6" y1="387" x2="149.6" y2="389.6" stroke="#111" stroke-width="0.7"/>
<text transform="translate(152.6,394.8) rotate(-60) scale(0.82,1)" font-size="4.6" fill="#222" text-anchor="end">Ubiquitin_Proteasome</text>
<line x1="154.4" y1="308.2" x2="154.4" y2="343.4" stroke="#6a6a6a" stroke-width="0.85"/>
<line x1="152.2" y1="308.2" x2="156.6" y2="308.2" stroke="#6a6a6a" stroke-width="0.85"/>
<line x1="152.2" y1="343.4" x2="156.6" y2="343.4" stroke="#6a6a6a" stroke-width="0.85"/>
<circle cx="154.4" cy="325.9" r="1.3" fill="#ddd" stroke="#1a1a1a" stroke-width="0.8"/>
<line x1="154.4" y1="387" x2="154.4" y2="389.6" stroke="#111" stroke-width="0.7"/>
<text transform="translate(157.4,394.8) rotate(-60) scale(0.82,1)" font-size="4.6" fill="#222" text-anchor="end">Exhaustion_Act</text>
<line x1="159.4" y1="312.1" x2="159.4" y2="341.2" stroke="#557755" stroke-width="0.85"/>
<line x1="157.2" y1="312.1" x2="161.6" y2="312.1" stroke="#557755" stroke-width="0.85"/>
<line x1="157.2" y1="341.2" x2="161.6" y2="341.2" stroke="#557755" stroke-width="0.85"/>
<circle cx="159.4" cy="326.5" r="1.3" fill="#ddd" stroke="#1a1a1a" stroke-width="0.8"/>
<line x1="159.4" y1="387" x2="159.4" y2="389.6" stroke="#111" stroke-width="0.7"/>
<text transform="translate(162.4,394.8) rotate(-60) scale(0.82,1)" font-size="4.6" fill="#222" text-anchor="end">NOTCH_target_genes</text>
<line x1="164.3" y1="314.3" x2="164.3" y2="340.3" stroke="#4a9a4a" stroke-width="0.85"/>
<line x1="162.1" y1="314.3" x2="166.5" y2="314.3" stroke="#4a9a4a" stroke-width="0.85"/>
<line x1="162.1" y1="340.3" x2="166.5" y2="340.3" stroke="#4a9a4a" stroke-width="0.85"/>
<circle cx="164.3" cy="327.4" r="1.3" fill="#ddd" stroke="#1a1a1a" stroke-width="0.8"/>
<line x1="164.3" y1="387" x2="164.3" y2="389.6" stroke="#111" stroke-width="0.7"/>
<text transform="translate(167.3,394.8) rotate(-60) scale(0.82,1)" font-size="4.6" fill="#222" text-anchor="end">Th17_polar</text>
<line x1="169.2" y1="313.4" x2="169.2" y2="341.8" stroke="#5aa55a" stroke-width="0.85"/>
<line x1="167.0" y1="313.4" x2="171.4" y2="313.4" stroke="#5aa55a" stroke-width="0.85"/>
<line x1="167.0" y1="341.8" x2="171.4" y2="341.8" stroke="#5aa55a" stroke-width="0.85"/>
<circle cx="169.2" cy="328.4" r="1.3" fill="#ddd" stroke="#1a1a1a" stroke-width="0.8"/>
<line x1="169.2" y1="387" x2="169.2" y2="389.6" stroke="#111" stroke-width="0.7"/>
<text transform="translate(172.2,394.8) rotate(-60) scale(0.82,1)" font-size="4.6" fill="#222" text-anchor="end">Transcription_Translation_Cell_Cycle</text>
<line x1="174.1" y1="315.8" x2="174.1" y2="343.4" stroke="#6ab26a" stroke-width="0.85"/>
<line x1="171.9" y1="315.8" x2="176.3" y2="315.8" stroke="#6ab26a" stroke-width="0.85"/>
<line x1="171.9" y1="343.4" x2="176.3" y2="343.4" stroke="#6ab26a" stroke-width="0.85"/>
<circle cx="174.1" cy="329.6" r="1.3" fill="#ddd" stroke="#1a1a1a" stroke-width="0.8"/>
<line x1="174.1" y1="387" x2="174.1" y2="389.6" stroke="#111" stroke-width="0.7"/>
<text transform="translate(177.1,394.8) rotate(-60) scale(0.82,1)" font-size="4.6" fill="#222" text-anchor="end">IL6_signaling</text>
<line x1="178.9" y1="315.8" x2="178.9" y2="344.9" stroke="#8cc48c" stroke-width="0.85"/>
<line x1="176.7" y1="315.8" x2="181.1" y2="315.8" stroke="#8cc48c" stroke-width="0.85"/>
<line x1="176.7" y1="344.9" x2="181.1" y2="344.9" stroke="#8cc48c" stroke-width="0.85"/>
<circle cx="178.9" cy="330.2" r="1.3" fill="#ddd" stroke="#1a1a1a" stroke-width="0.8"/>
<line x1="178.9" y1="387" x2="178.9" y2="389.6" stroke="#111" stroke-width="0.7"/>
<text transform="translate(181.9,394.8) rotate(-60) scale(0.82,1)" font-size="4.6" fill="#222" text-anchor="end">TGFB_signaling</text>
<line x1="183.8" y1="312.1" x2="183.8" y2="349.5" stroke="#888" stroke-width="0.85"/>
<line x1="181.6" y1="312.1" x2="186.0" y2="312.1" stroke="#888" stroke-width="0.85"/>
<line x1="181.6" y1="349.5" x2="186.0" y2="349.5" stroke="#888" stroke-width="0.85"/>
<circle cx="183.8" cy="331.1" r="1.3" fill="#ddd" stroke="#1a1a1a" stroke-width="0.8"/>
<line x1="183.8" y1="387" x2="183.8" y2="389.6" stroke="#111" stroke-width="0.7"/>
<text transform="translate(186.8,394.8) rotate(-60) scale(0.82,1)" font-size="4.6" fill="#222" text-anchor="end">Proinflammatory</text>
<line x1="188.7" y1="312.1" x2="188.7" y2="351" stroke="#777" stroke-width="0.85"/>
<line x1="186.5" y1="312.1" x2="190.9" y2="312.1" stroke="#777" stroke-width="0.85"/>
<line x1="186.5" y1="351" x2="190.9" y2="351" stroke="#777" stroke-width="0.85"/>
<circle cx="188.7" cy="332" r="1.3" fill="#ddd" stroke="#1a1a1a" stroke-width="0.8"/>
<line x1="188.7" y1="387" x2="188.7" y2="389.6" stroke="#111" stroke-width="0.7"/>
<text transform="translate(191.7,394.8) rotate(-60) scale(0.82,1)" font-size="4.6" fill="#222" text-anchor="end">MAPK</text>
<line x1="193.5" y1="312.1" x2="193.5" y2="351.9" stroke="#444" stroke-width="0.85"/>
<line x1="191.3" y1="312.1" x2="195.7" y2="312.1" stroke="#444" stroke-width="0.85"/>
<line x1="191.3" y1="351.9" x2="195.7" y2="351.9" stroke="#444" stroke-width="0.85"/>
<circle cx="193.5" cy="332" r="1.3" fill="#ddd" stroke="#1a1a1a" stroke-width="0.8"/>
<line x1="193.5" y1="387" x2="193.5" y2="389.6" stroke="#111" stroke-width="0.7"/>
<text transform="translate(196.5,394.8) rotate(-60) scale(0.82,1)" font-size="4.6" fill="#222" text-anchor="end">NLR_Inflammasome</text>
<line x1="198.4" y1="318" x2="198.4" y2="348" stroke="#4aa04a" stroke-width="0.85"/>
<line x1="196.2" y1="318" x2="200.6" y2="318" stroke="#4aa04a" stroke-width="0.85"/>
<line x1="196.2" y1="348" x2="200.6" y2="348" stroke="#4aa04a" stroke-width="0.85"/>
<circle cx="198.4" cy="332.6" r="1.3" fill="#ddd" stroke="#1a1a1a" stroke-width="0.8"/>
<line x1="198.4" y1="387" x2="198.4" y2="389.6" stroke="#111" stroke-width="0.7"/>
<text transform="translate(201.4,394.8) rotate(-60) scale(0.82,1)" font-size="4.6" fill="#222" text-anchor="end">Anti_inflammatory</text>
<line x1="203.4" y1="314.3" x2="203.4" y2="351.9" stroke="#55a855" stroke-width="0.85"/>
<line x1="201.2" y1="314.3" x2="205.6" y2="314.3" stroke="#55a855" stroke-width="0.85"/>
<line x1="201.2" y1="351.9" x2="205.6" y2="351.9" stroke="#55a855" stroke-width="0.85"/>
<circle cx="203.4" cy="332.6" r="1.3" fill="#ddd" stroke="#1a1a1a" stroke-width="0.8"/>
<line x1="203.4" y1="387" x2="203.4" y2="389.6" stroke="#111" stroke-width="0.7"/>
<text transform="translate(206.4,394.8) rotate(-60) scale(0.82,1)" font-size="4.6" fill="#222" text-anchor="end">Chemokines_Migration</text>
<line x1="208.3" y1="316.7" x2="208.3" y2="352.5" stroke="#70b870" stroke-width="0.85"/>
<line x1="206.1" y1="316.7" x2="210.5" y2="316.7" stroke="#70b870" stroke-width="0.85"/>
<line x1="206.1" y1="352.5" x2="210.5" y2="352.5" stroke="#70b870" stroke-width="0.85"/>
<circle cx="208.3" cy="335.1" r="1.3" fill="#ddd" stroke="#1a1a1a" stroke-width="0.8"/>
<line x1="208.3" y1="387" x2="208.3" y2="389.6" stroke="#111" stroke-width="0.7"/>
<text transform="translate(211.3,394.8) rotate(-60) scale(0.82,1)" font-size="4.6" fill="#222" text-anchor="end">Regulation_of_T_cell_activation</text>
<line x1="213.2" y1="314.3" x2="213.2" y2="359.3" stroke="#444" stroke-width="0.85"/>
<line x1="211.0" y1="314.3" x2="215.4" y2="314.3" stroke="#444" stroke-width="0.85"/>
<line x1="211.0" y1="359.3" x2="215.4" y2="359.3" stroke="#444" stroke-width="0.85"/>
<circle cx="213.2" cy="337.2" r="1.3" fill="#ddd" stroke="#1a1a1a" stroke-width="0.8"/>
<line x1="213.2" y1="387" x2="213.2" y2="389.6" stroke="#111" stroke-width="0.7"/>
<text transform="translate(216.2,394.8) rotate(-60) scale(0.82,1)" font-size="4.6" fill="#222" text-anchor="end">JAK_STAT</text>
<line x1="218.2" y1="321" x2="218.2" y2="354.1" stroke="#7ac07a" stroke-width="0.85"/>
<line x1="216.0" y1="321" x2="220.4" y2="321" stroke="#7ac07a" stroke-width="0.85"/>
<line x1="216.0" y1="354.1" x2="220.4" y2="354.1" stroke="#7ac07a" stroke-width="0.85"/>
<circle cx="218.2" cy="337.8" r="1.3" fill="#ddd" stroke="#1a1a1a" stroke-width="0.8"/>
<line x1="218.2" y1="387" x2="218.2" y2="389.6" stroke="#111" stroke-width="0.7"/>
<text transform="translate(221.2,394.8) rotate(-60) scale(0.82,1)" font-size="4.6" fill="#222" text-anchor="end">Adhesion</text>
<line x1="223" y1="320.4" x2="223" y2="355.6" stroke="#6ab86a" stroke-width="0.85"/>
<line x1="220.8" y1="320.4" x2="225.2" y2="320.4" stroke="#6ab86a" stroke-width="0.85"/>
<line x1="220.8" y1="355.6" x2="225.2" y2="355.6" stroke="#6ab86a" stroke-width="0.85"/>
<circle cx="223" cy="337.8" r="1.3" fill="#ddd" stroke="#1a1a1a" stroke-width="0.8"/>
<line x1="223" y1="387" x2="223" y2="389.6" stroke="#111" stroke-width="0.7"/>
<text transform="translate(226.0,394.8) rotate(-60) scale(0.82,1)" font-size="4.6" fill="#222" text-anchor="end">TNF</text>
<line x1="227.9" y1="321" x2="227.9" y2="355.6" stroke="#6ab86a" stroke-width="0.85"/>
<line x1="225.7" y1="321" x2="230.1" y2="321" stroke="#6ab86a" stroke-width="0.85"/>
<line x1="225.7" y1="355.6" x2="230.1" y2="355.6" stroke="#6ab86a" stroke-width="0.85"/>
<circle cx="227.9" cy="338.2" r="1.3" fill="#ddd" stroke="#1a1a1a" stroke-width="0.8"/>
<line x1="227.9" y1="387" x2="227.9" y2="389.6" stroke="#111" stroke-width="0.7"/>
<text transform="translate(230.9,394.8) rotate(-60) scale(0.82,1)" font-size="4.6" fill="#222" text-anchor="end">NOTCH_signaling</text>
<line x1="232.7" y1="325" x2="232.7" y2="352.5" stroke="#6ab86a" stroke-width="0.85"/>
<line x1="230.5" y1="325" x2="234.9" y2="325" stroke="#6ab86a" stroke-width="0.85"/>
<line x1="230.5" y1="352.5" x2="234.9" y2="352.5" stroke="#6ab86a" stroke-width="0.85"/>
<circle cx="232.7" cy="338.8" r="1.3" fill="#ddd" stroke="#1a1a1a" stroke-width="0.8"/>
<line x1="232.7" y1="387" x2="232.7" y2="389.6" stroke="#111" stroke-width="0.7"/>
<text transform="translate(235.7,394.8) rotate(-60) scale(0.82,1)" font-size="4.6" fill="#222" text-anchor="end">IL7_IL15</text>
<line x1="237.6" y1="321" x2="237.6" y2="355.6" stroke="#70b870" stroke-width="0.85"/>
<line x1="235.4" y1="321" x2="239.8" y2="321" stroke="#70b870" stroke-width="0.85"/>
<line x1="235.4" y1="355.6" x2="239.8" y2="355.6" stroke="#70b870" stroke-width="0.85"/>
<circle cx="237.6" cy="338.8" r="1.3" fill="#ddd" stroke="#1a1a1a" stroke-width="0.8"/>
<line x1="237.6" y1="387" x2="237.6" y2="389.6" stroke="#111" stroke-width="0.7"/>
<text transform="translate(240.6,394.8) rotate(-60) scale(0.82,1)" font-size="4.6" fill="#222" text-anchor="end">Type1_IFN</text>
<line x1="242.5" y1="316.4" x2="242.5" y2="363.9" stroke="#4f7f4f" stroke-width="0.85"/>
<line x1="240.3" y1="316.4" x2="244.7" y2="316.4" stroke="#4f7f4f" stroke-width="0.85"/>
<line x1="240.3" y1="363.9" x2="244.7" y2="363.9" stroke="#4f7f4f" stroke-width="0.85"/>
<circle cx="242.5" cy="340.9" r="1.3" fill="#ddd" stroke="#1a1a1a" stroke-width="0.8"/>
<line x1="242.5" y1="387" x2="242.5" y2="389.6" stroke="#111" stroke-width="0.7"/>
<text transform="translate(245.5,394.8) rotate(-60) scale(0.82,1)" font-size="4.6" fill="#222" text-anchor="end">Cytokines</text>
<line x1="247.4" y1="321.3" x2="247.4" y2="362.6" stroke="#5aa05a" stroke-width="0.85"/>
<line x1="245.2" y1="321.3" x2="249.6" y2="321.3" stroke="#5aa05a" stroke-width="0.85"/>
<line x1="245.2" y1="362.6" x2="249.6" y2="362.6" stroke="#5aa05a" stroke-width="0.85"/>
<circle cx="247.4" cy="341.8" r="1.3" fill="#ddd" stroke="#1a1a1a" stroke-width="0.8"/>
<line x1="247.4" y1="387" x2="247.4" y2="389.6" stroke="#111" stroke-width="0.7"/>
<text transform="translate(250.4,394.8) rotate(-60) scale(0.82,1)" font-size="4.6" fill="#222" text-anchor="end">Ag_Presentation_MHC_Memory</text>
<line x1="252.3" y1="322.5" x2="252.3" y2="361.7" stroke="#8cc88c" stroke-width="0.85"/>
<line x1="250.1" y1="322.5" x2="254.5" y2="322.5" stroke="#8cc88c" stroke-width="0.85"/>
<line x1="250.1" y1="361.7" x2="254.5" y2="361.7" stroke="#8cc88c" stroke-width="0.85"/>
<circle cx="252.3" cy="341.8" r="1.3" fill="#ddd" stroke="#1a1a1a" stroke-width="0.8"/>
<line x1="252.3" y1="387" x2="252.3" y2="389.6" stroke="#111" stroke-width="0.7"/>
<text transform="translate(255.3,394.8) rotate(-60) scale(0.82,1)" font-size="4.6" fill="#222" text-anchor="end">Memory</text>
<line x1="257.1" y1="322.8" x2="257.1" y2="361.7" stroke="#8cc88c" stroke-width="0.85"/>
<line x1="254.9" y1="322.8" x2="259.3" y2="322.8" stroke="#8cc88c" stroke-width="0.85"/>
<line x1="254.9" y1="361.7" x2="259.3" y2="361.7" stroke="#8cc88c" stroke-width="0.85"/>
<circle cx="257.1" cy="341.8" r="1.3" fill="#ddd" stroke="#1a1a1a" stroke-width="0.8"/>
<line x1="257.1" y1="387" x2="257.1" y2="389.6" stroke="#111" stroke-width="0.7"/>
<text transform="translate(260.1,394.8) rotate(-60) scale(0.82,1)" font-size="4.6" fill="#222" text-anchor="end">Costimulation</text>
<line x1="262" y1="322.8" x2="262" y2="360.8" stroke="#8cc88c" stroke-width="0.85"/>
<line x1="259.8" y1="322.8" x2="264.2" y2="322.8" stroke="#8cc88c" stroke-width="0.85"/>
<line x1="259.8" y1="360.8" x2="264.2" y2="360.8" stroke="#8cc88c" stroke-width="0.85"/>
<circle cx="262" cy="341.8" r="1.3" fill="#ddd" stroke="#1a1a1a" stroke-width="0.8"/>
<line x1="262" y1="387" x2="262" y2="389.6" stroke="#111" stroke-width="0.7"/>
<text transform="translate(265.0,394.8) rotate(-60) scale(0.82,1)" font-size="4.6" fill="#222" text-anchor="end">TCR_signaling</text>
<line x1="266.9" y1="327.4" x2="266.9" y2="370.3" stroke="#9ad09a" stroke-width="0.85"/>
<line x1="264.7" y1="327.4" x2="269.1" y2="327.4" stroke="#9ad09a" stroke-width="0.85"/>
<line x1="264.7" y1="370.3" x2="269.1" y2="370.3" stroke="#9ad09a" stroke-width="0.85"/>
<circle cx="266.9" cy="348.9" r="1.3" fill="#ddd" stroke="#1a1a1a" stroke-width="0.8"/>
<line x1="266.9" y1="387" x2="266.9" y2="389.6" stroke="#111" stroke-width="0.7"/>
<text transform="translate(269.9,394.8) rotate(-60) scale(0.82,1)" font-size="4.6" fill="#222" text-anchor="end">NFKB_Positive_regulators</text>
<line x1="271.8" y1="329.6" x2="271.8" y2="370.3" stroke="#9ad09a" stroke-width="0.85"/>
<line x1="269.6" y1="329.6" x2="274.0" y2="329.6" stroke="#9ad09a" stroke-width="0.85"/>
<line x1="269.6" y1="370.3" x2="274.0" y2="370.3" stroke="#9ad09a" stroke-width="0.85"/>
<circle cx="271.8" cy="349.5" r="1.3" fill="#ddd" stroke="#1a1a1a" stroke-width="0.8"/>
<line x1="271.8" y1="387" x2="271.8" y2="389.6" stroke="#111" stroke-width="0.7"/>
<text transform="translate(274.8,394.8) rotate(-60) scale(0.82,1)" font-size="4.6" fill="#222" text-anchor="end">IL12_IL18_IL33_signaling</text>
<line x1="276.6" y1="330.5" x2="276.6" y2="370.3" stroke="#9ad09a" stroke-width="0.85"/>
<line x1="274.4" y1="330.5" x2="278.8" y2="330.5" stroke="#9ad09a" stroke-width="0.85"/>
<line x1="274.4" y1="370.3" x2="278.8" y2="370.3" stroke="#9ad09a" stroke-width="0.85"/>
<circle cx="276.6" cy="350.1" r="1.3" fill="#ddd" stroke="#1a1a1a" stroke-width="0.8"/>
<line x1="276.6" y1="387" x2="276.6" y2="389.6" stroke="#111" stroke-width="0.7"/>
<text transform="translate(279.6,394.8) rotate(-60) scale(0.82,1)" font-size="4.6" fill="#222" text-anchor="end">NKG2_signaling</text>
<line x1="281.5" y1="331.1" x2="281.5" y2="369.4" stroke="#9ad09a" stroke-width="0.85"/>
<line x1="279.3" y1="331.1" x2="283.7" y2="331.1" stroke="#9ad09a" stroke-width="0.85"/>
<line x1="279.3" y1="369.4" x2="283.7" y2="369.4" stroke="#9ad09a" stroke-width="0.85"/>
<circle cx="281.5" cy="350.4" r="1.3" fill="#ddd" stroke="#1a1a1a" stroke-width="0.8"/>
<line x1="281.5" y1="387" x2="281.5" y2="389.6" stroke="#111" stroke-width="0.7"/>
<text transform="translate(284.5,394.8) rotate(-60) scale(0.82,1)" font-size="4.6" fill="#222" text-anchor="end">TLR_Signaling</text>
<line x1="286.4" y1="328" x2="286.4" y2="378.6" stroke="#6ab86a" stroke-width="0.85"/>
<line x1="284.2" y1="328" x2="288.6" y2="328" stroke="#6ab86a" stroke-width="0.85"/>
<line x1="284.2" y1="378.6" x2="288.6" y2="378.6" stroke="#6ab86a" stroke-width="0.85"/>
<circle cx="286.4" cy="353.5" r="1.3" fill="#ddd" stroke="#1a1a1a" stroke-width="0.8"/>
<line x1="286.4" y1="387" x2="286.4" y2="389.6" stroke="#111" stroke-width="0.7"/>
<text transform="translate(289.4,394.8) rotate(-60) scale(0.82,1)" font-size="4.6" fill="#222" text-anchor="end">NFAT_TFs</text>
<line x1="291.4" y1="327.4" x2="291.4" y2="382.2" stroke="#6ab86a" stroke-width="0.85"/>
<line x1="289.2" y1="327.4" x2="293.6" y2="327.4" stroke="#6ab86a" stroke-width="0.85"/>
<line x1="289.2" y1="382.2" x2="293.6" y2="382.2" stroke="#6ab86a" stroke-width="0.85"/>
<circle cx="291.4" cy="355.1" r="1.3" fill="#ddd" stroke="#1a1a1a" stroke-width="0.8"/>
<line x1="291.4" y1="387" x2="291.4" y2="389.6" stroke="#111" stroke-width="0.7"/>
<text transform="translate(294.4,394.8) rotate(-60) scale(0.82,1)" font-size="4.6" fill="#222" text-anchor="end">CTL_Cytotoxicity</text>
</svg></body></html>
